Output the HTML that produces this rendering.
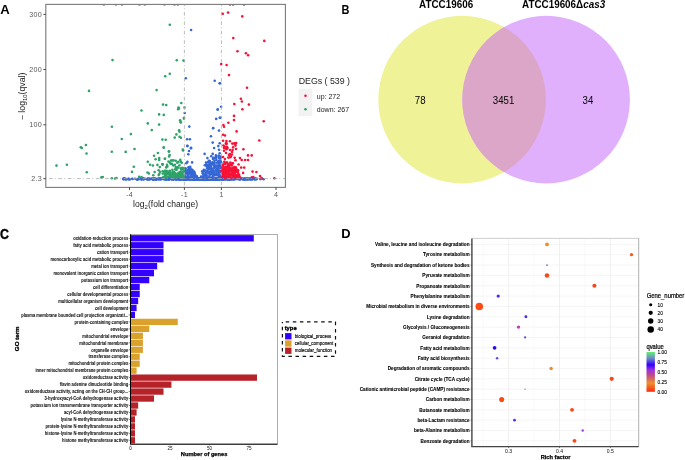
<!DOCTYPE html>
<html><head><meta charset="utf-8"><style>
html,body{margin:0;padding:0;background:#fff;width:685px;height:460px;overflow:hidden}
svg{display:block;font-family:"Liberation Sans", sans-serif;will-change:transform;filter:blur(0.45px)}
</style></head><body>
<svg width="685" height="460" viewBox="0 0 685 460" font-family='"Liberation Sans", sans-serif'>
<rect width="685" height="460" fill="#fff"/>
<text x="0.2" y="13.5" font-size="13.1" font-weight="bold">A</text>
<clipPath id="ca"><rect x="45.8" y="4.4" width="239.6" height="183.0"/></clipPath>
<g clip-path="url(#ca)">
<g fill="#3567d6">
<circle cx="191.1" cy="30.0" r="1.3"/><circle cx="185.8" cy="78.3" r="1.3"/><circle cx="214.7" cy="80.8" r="1.3"/><circle cx="219.7" cy="83.3" r="1.3"/><circle cx="220.0" cy="83.3" r="1.3"/><circle cx="184.7" cy="113.0" r="1.3"/><circle cx="189.3" cy="126.6" r="1.3"/><circle cx="217.7" cy="109.5" r="1.3"/><circle cx="216.2" cy="118.9" r="1.3"/><circle cx="219.7" cy="117.8" r="1.3"/><circle cx="213.2" cy="128.0" r="1.3"/><circle cx="221.1" cy="106.7" r="1.3"/><circle cx="217.7" cy="109.5" r="1.3"/><circle cx="220.3" cy="117.8" r="1.3"/><circle cx="187.1" cy="139.2" r="1.3"/><circle cx="189.9" cy="139.2" r="1.3"/><circle cx="187.5" cy="146.0" r="1.3"/><circle cx="191.0" cy="147.9" r="1.3"/><circle cx="187.2" cy="145.9" r="1.3"/><circle cx="191.0" cy="148.2" r="1.3"/><circle cx="189.0" cy="151.0" r="1.3"/><circle cx="188.3" cy="154.3" r="1.3"/><circle cx="187.4" cy="161.9" r="1.3"/><circle cx="186.3" cy="163.3" r="1.3"/><circle cx="192.1" cy="162.4" r="1.3"/><circle cx="192.3" cy="179.2" r="1.3"/><circle cx="193.2" cy="178.9" r="1.3"/><circle cx="172.1" cy="178.9" r="1.3"/><circle cx="233.4" cy="179.1" r="1.3"/><circle cx="231.1" cy="179.1" r="1.3"/><circle cx="211.8" cy="179.1" r="1.3"/><circle cx="150.0" cy="179.3" r="1.3"/><circle cx="215.2" cy="179.1" r="1.3"/><circle cx="149.3" cy="178.5" r="1.3"/><circle cx="173.3" cy="178.9" r="1.3"/><circle cx="209.2" cy="179.0" r="1.3"/><circle cx="215.6" cy="178.8" r="1.3"/><circle cx="209.3" cy="179.1" r="1.3"/><circle cx="180.2" cy="179.5" r="1.3"/><circle cx="216.7" cy="179.4" r="1.3"/><circle cx="181.4" cy="178.8" r="1.3"/><circle cx="189.7" cy="179.0" r="1.3"/><circle cx="219.0" cy="179.1" r="1.3"/><circle cx="186.6" cy="178.7" r="1.3"/><circle cx="184.4" cy="179.4" r="1.3"/><circle cx="175.8" cy="179.1" r="1.3"/><circle cx="212.8" cy="178.6" r="1.3"/><circle cx="201.5" cy="179.4" r="1.3"/><circle cx="139.6" cy="178.9" r="1.3"/><circle cx="196.8" cy="178.8" r="1.3"/><circle cx="214.9" cy="179.0" r="1.3"/><circle cx="156.1" cy="179.2" r="1.3"/><circle cx="220.1" cy="179.3" r="1.3"/><circle cx="243.2" cy="179.1" r="1.3"/><circle cx="203.6" cy="178.6" r="1.3"/><circle cx="218.5" cy="178.8" r="1.3"/><circle cx="186.4" cy="178.6" r="1.3"/><circle cx="171.0" cy="178.8" r="1.3"/><circle cx="238.7" cy="178.4" r="1.3"/><circle cx="156.3" cy="179.1" r="1.3"/><circle cx="243.3" cy="179.2" r="1.3"/><circle cx="143.0" cy="178.2" r="1.3"/><circle cx="210.7" cy="178.8" r="1.3"/><circle cx="166.4" cy="179.3" r="1.3"/><circle cx="233.1" cy="179.0" r="1.3"/><circle cx="207.4" cy="179.1" r="1.3"/><circle cx="247.8" cy="179.2" r="1.3"/><circle cx="215.6" cy="179.2" r="1.3"/><circle cx="153.0" cy="179.4" r="1.3"/><circle cx="228.7" cy="179.2" r="1.3"/><circle cx="140.8" cy="178.8" r="1.3"/><circle cx="225.3" cy="178.5" r="1.3"/><circle cx="194.5" cy="179.3" r="1.3"/><circle cx="160.7" cy="179.5" r="1.3"/><circle cx="216.6" cy="179.0" r="1.3"/><circle cx="209.7" cy="179.2" r="1.3"/><circle cx="203.6" cy="179.3" r="1.3"/><circle cx="180.2" cy="178.9" r="1.3"/><circle cx="231.3" cy="179.0" r="1.3"/><circle cx="173.6" cy="179.3" r="1.3"/><circle cx="244.0" cy="178.9" r="1.3"/><circle cx="158.6" cy="179.0" r="1.3"/><circle cx="195.5" cy="178.9" r="1.3"/><circle cx="242.1" cy="178.7" r="1.3"/><circle cx="237.8" cy="178.6" r="1.3"/><circle cx="176.4" cy="179.2" r="1.3"/><circle cx="233.9" cy="179.3" r="1.3"/><circle cx="210.4" cy="179.0" r="1.3"/><circle cx="204.6" cy="179.2" r="1.3"/><circle cx="194.7" cy="179.1" r="1.3"/><circle cx="217.2" cy="179.0" r="1.3"/><circle cx="222.9" cy="179.2" r="1.3"/><circle cx="260.3" cy="179.1" r="1.3"/><circle cx="187.2" cy="178.9" r="1.3"/><circle cx="199.6" cy="179.3" r="1.3"/><circle cx="189.9" cy="179.1" r="1.3"/><circle cx="255.1" cy="178.2" r="1.3"/><circle cx="166.3" cy="179.1" r="1.3"/><circle cx="212.0" cy="179.1" r="1.3"/><circle cx="187.1" cy="179.2" r="1.3"/><circle cx="208.5" cy="178.8" r="1.3"/><circle cx="210.7" cy="178.8" r="1.3"/><circle cx="197.0" cy="178.9" r="1.3"/><circle cx="198.1" cy="178.2" r="1.3"/><circle cx="185.4" cy="179.3" r="1.3"/><circle cx="164.9" cy="179.0" r="1.3"/><circle cx="228.6" cy="179.3" r="1.3"/><circle cx="244.7" cy="178.5" r="1.3"/><circle cx="189.4" cy="178.9" r="1.3"/><circle cx="218.7" cy="179.3" r="1.3"/><circle cx="232.7" cy="178.6" r="1.3"/><circle cx="220.5" cy="178.6" r="1.3"/><circle cx="205.3" cy="179.4" r="1.3"/><circle cx="195.5" cy="179.1" r="1.3"/><circle cx="223.9" cy="179.0" r="1.3"/><circle cx="197.3" cy="179.5" r="1.3"/><circle cx="231.5" cy="178.9" r="1.3"/><circle cx="165.6" cy="179.3" r="1.3"/><circle cx="192.0" cy="179.0" r="1.3"/><circle cx="221.2" cy="179.1" r="1.3"/><circle cx="219.2" cy="178.5" r="1.3"/><circle cx="154.7" cy="179.2" r="1.3"/><circle cx="171.1" cy="178.7" r="1.3"/><circle cx="155.9" cy="179.4" r="1.3"/><circle cx="222.4" cy="179.4" r="1.3"/><circle cx="171.9" cy="179.0" r="1.3"/><circle cx="165.8" cy="179.2" r="1.3"/><circle cx="247.7" cy="178.7" r="1.3"/><circle cx="246.8" cy="179.3" r="1.3"/><circle cx="194.7" cy="178.4" r="1.3"/><circle cx="242.2" cy="179.0" r="1.3"/><circle cx="181.9" cy="179.1" r="1.3"/><circle cx="212.3" cy="179.4" r="1.3"/><circle cx="169.4" cy="179.3" r="1.3"/><circle cx="244.6" cy="179.4" r="1.3"/><circle cx="194.6" cy="178.8" r="1.3"/><circle cx="230.6" cy="179.0" r="1.3"/><circle cx="203.7" cy="179.4" r="1.3"/><circle cx="192.1" cy="178.3" r="1.3"/><circle cx="188.4" cy="178.4" r="1.3"/><circle cx="224.6" cy="179.1" r="1.3"/><circle cx="181.7" cy="179.0" r="1.3"/><circle cx="225.0" cy="179.0" r="1.3"/><circle cx="239.8" cy="179.0" r="1.3"/><circle cx="231.2" cy="179.4" r="1.3"/><circle cx="248.3" cy="178.8" r="1.3"/><circle cx="226.4" cy="178.4" r="1.3"/><circle cx="167.5" cy="178.4" r="1.3"/><circle cx="232.1" cy="178.6" r="1.3"/><circle cx="199.6" cy="178.9" r="1.3"/><circle cx="199.1" cy="178.8" r="1.3"/><circle cx="207.0" cy="179.5" r="1.3"/><circle cx="201.3" cy="179.2" r="1.3"/><circle cx="230.0" cy="178.9" r="1.3"/><circle cx="162.2" cy="178.8" r="1.3"/><circle cx="232.2" cy="178.5" r="1.3"/><circle cx="182.1" cy="179.3" r="1.3"/><circle cx="223.8" cy="179.0" r="1.3"/><circle cx="224.2" cy="179.0" r="1.3"/><circle cx="164.6" cy="178.5" r="1.3"/><circle cx="180.8" cy="179.3" r="1.3"/><circle cx="183.0" cy="178.7" r="1.3"/><circle cx="176.9" cy="178.5" r="1.3"/><circle cx="196.5" cy="178.6" r="1.3"/><circle cx="210.9" cy="178.3" r="1.3"/><circle cx="209.8" cy="178.8" r="1.3"/><circle cx="141.7" cy="179.2" r="1.3"/><circle cx="191.7" cy="178.3" r="1.3"/><circle cx="173.7" cy="179.1" r="1.3"/><circle cx="186.2" cy="179.2" r="1.3"/><circle cx="222.4" cy="179.2" r="1.3"/><circle cx="209.8" cy="179.4" r="1.3"/><circle cx="219.8" cy="179.1" r="1.3"/><circle cx="137.5" cy="179.3" r="1.3"/><circle cx="239.3" cy="178.9" r="1.3"/><circle cx="185.9" cy="179.6" r="1.3"/><circle cx="147.3" cy="179.1" r="1.3"/><circle cx="172.2" cy="179.2" r="1.3"/><circle cx="256.6" cy="179.0" r="1.3"/><circle cx="216.8" cy="179.3" r="1.3"/><circle cx="172.8" cy="179.0" r="1.3"/><circle cx="208.8" cy="179.2" r="1.3"/><circle cx="199.0" cy="178.9" r="1.3"/><circle cx="169.5" cy="178.9" r="1.3"/><circle cx="226.8" cy="179.0" r="1.3"/><circle cx="174.4" cy="178.7" r="1.3"/><circle cx="234.2" cy="179.2" r="1.3"/><circle cx="218.6" cy="179.1" r="1.3"/><circle cx="250.5" cy="179.1" r="1.3"/><circle cx="198.0" cy="179.2" r="1.3"/><circle cx="141.7" cy="179.3" r="1.3"/><circle cx="209.7" cy="178.8" r="1.3"/><circle cx="239.8" cy="179.5" r="1.3"/><circle cx="157.9" cy="178.8" r="1.3"/><circle cx="208.7" cy="179.1" r="1.3"/><circle cx="188.0" cy="178.7" r="1.3"/><circle cx="263.6" cy="179.3" r="1.3"/><circle cx="164.2" cy="178.6" r="1.3"/><circle cx="251.1" cy="179.3" r="1.3"/><circle cx="254.6" cy="179.2" r="1.3"/><circle cx="173.8" cy="179.1" r="1.3"/><circle cx="135.2" cy="178.8" r="1.3"/><circle cx="198.2" cy="179.2" r="1.3"/><circle cx="178.2" cy="179.0" r="1.3"/><circle cx="213.8" cy="179.1" r="1.3"/><circle cx="219.1" cy="179.1" r="1.3"/><circle cx="190.3" cy="179.2" r="1.3"/><circle cx="201.5" cy="178.8" r="1.3"/><circle cx="181.2" cy="179.0" r="1.3"/><circle cx="196.7" cy="179.0" r="1.3"/><circle cx="200.0" cy="179.1" r="1.3"/><circle cx="196.0" cy="178.6" r="1.3"/><circle cx="212.6" cy="179.3" r="1.3"/><circle cx="213.0" cy="178.9" r="1.3"/><circle cx="213.4" cy="178.7" r="1.3"/><circle cx="143.1" cy="179.0" r="1.3"/><circle cx="172.1" cy="179.2" r="1.3"/><circle cx="167.5" cy="178.2" r="1.3"/><circle cx="168.8" cy="179.5" r="1.3"/><circle cx="188.5" cy="178.6" r="1.3"/><circle cx="177.1" cy="179.2" r="1.3"/><circle cx="214.9" cy="179.1" r="1.3"/><circle cx="244.5" cy="179.2" r="1.3"/><circle cx="199.4" cy="179.2" r="1.3"/><circle cx="249.6" cy="179.3" r="1.3"/><circle cx="230.7" cy="178.7" r="1.3"/><circle cx="195.5" cy="179.2" r="1.3"/><circle cx="191.1" cy="179.3" r="1.3"/><circle cx="217.9" cy="179.3" r="1.3"/><circle cx="193.6" cy="179.8" r="1.3"/><circle cx="237.2" cy="178.9" r="1.3"/><circle cx="202.7" cy="179.8" r="1.3"/><circle cx="189.7" cy="179.3" r="1.3"/><circle cx="229.4" cy="179.0" r="1.3"/><circle cx="165.0" cy="179.1" r="1.3"/><circle cx="210.8" cy="179.3" r="1.3"/><circle cx="223.5" cy="179.0" r="1.3"/><circle cx="225.6" cy="179.2" r="1.3"/><circle cx="206.2" cy="179.0" r="1.3"/><circle cx="192.7" cy="179.2" r="1.3"/><circle cx="168.4" cy="178.8" r="1.3"/><circle cx="200.1" cy="178.6" r="1.3"/><circle cx="186.9" cy="178.4" r="1.3"/><circle cx="179.5" cy="179.2" r="1.3"/><circle cx="217.0" cy="179.0" r="1.3"/><circle cx="193.0" cy="178.6" r="1.3"/><circle cx="254.8" cy="179.2" r="1.3"/><circle cx="232.8" cy="178.7" r="1.3"/><circle cx="194.4" cy="178.5" r="1.3"/><circle cx="223.4" cy="179.3" r="1.3"/><circle cx="143.1" cy="179.0" r="1.3"/><circle cx="218.9" cy="178.5" r="1.3"/><circle cx="145.2" cy="178.7" r="1.3"/><circle cx="181.1" cy="178.6" r="1.3"/><circle cx="200.9" cy="179.1" r="1.3"/><circle cx="219.0" cy="179.2" r="1.3"/><circle cx="245.1" cy="179.3" r="1.3"/><circle cx="160.6" cy="178.8" r="1.3"/><circle cx="168.2" cy="178.7" r="1.3"/><circle cx="197.6" cy="179.0" r="1.3"/><circle cx="214.7" cy="178.5" r="1.3"/><circle cx="162.9" cy="179.0" r="1.3"/><circle cx="194.0" cy="178.9" r="1.3"/><circle cx="198.1" cy="178.8" r="1.3"/><circle cx="221.0" cy="179.1" r="1.3"/><circle cx="197.4" cy="178.8" r="1.3"/><circle cx="194.8" cy="178.2" r="1.3"/><circle cx="170.6" cy="179.0" r="1.3"/><circle cx="154.9" cy="179.1" r="1.3"/><circle cx="204.4" cy="178.6" r="1.3"/><circle cx="192.5" cy="178.9" r="1.3"/><circle cx="213.8" cy="179.2" r="1.3"/><circle cx="198.9" cy="178.7" r="1.3"/><circle cx="195.7" cy="179.0" r="1.3"/><circle cx="222.0" cy="179.1" r="1.3"/><circle cx="178.3" cy="178.6" r="1.3"/><circle cx="188.8" cy="178.8" r="1.3"/><circle cx="166.6" cy="179.0" r="1.3"/><circle cx="185.3" cy="179.0" r="1.3"/><circle cx="215.7" cy="178.9" r="1.3"/><circle cx="190.4" cy="179.3" r="1.3"/><circle cx="203.6" cy="179.3" r="1.3"/><circle cx="128.7" cy="178.8" r="1.3"/><circle cx="207.4" cy="179.2" r="1.3"/><circle cx="209.7" cy="179.4" r="1.3"/><circle cx="223.0" cy="179.3" r="1.3"/><circle cx="215.3" cy="179.0" r="1.3"/><circle cx="215.3" cy="178.7" r="1.3"/><circle cx="235.4" cy="178.7" r="1.3"/><circle cx="207.5" cy="179.6" r="1.3"/><circle cx="193.3" cy="179.0" r="1.3"/><circle cx="234.9" cy="179.0" r="1.3"/><circle cx="175.8" cy="179.1" r="1.3"/><circle cx="217.5" cy="179.2" r="1.3"/><circle cx="176.8" cy="179.5" r="1.3"/><circle cx="250.0" cy="179.0" r="1.3"/><circle cx="208.1" cy="178.9" r="1.3"/><circle cx="242.4" cy="178.8" r="1.3"/><circle cx="220.2" cy="178.9" r="1.3"/><circle cx="179.2" cy="179.2" r="1.3"/><circle cx="240.0" cy="179.0" r="1.3"/><circle cx="179.7" cy="179.2" r="1.3"/><circle cx="198.5" cy="179.1" r="1.3"/><circle cx="245.7" cy="179.3" r="1.3"/><circle cx="184.4" cy="179.7" r="1.3"/><circle cx="200.1" cy="179.2" r="1.3"/><circle cx="180.6" cy="179.0" r="1.3"/><circle cx="147.5" cy="179.5" r="1.3"/><circle cx="241.0" cy="178.6" r="1.3"/><circle cx="154.8" cy="178.5" r="1.3"/><circle cx="235.3" cy="178.9" r="1.3"/><circle cx="198.2" cy="178.9" r="1.3"/><circle cx="196.4" cy="178.7" r="1.3"/><circle cx="200.7" cy="178.6" r="1.3"/><circle cx="197.9" cy="179.1" r="1.3"/><circle cx="214.0" cy="178.9" r="1.3"/><circle cx="172.9" cy="179.0" r="1.3"/><circle cx="185.5" cy="179.5" r="1.3"/><circle cx="223.0" cy="179.0" r="1.3"/><circle cx="185.9" cy="178.8" r="1.3"/><circle cx="171.9" cy="178.9" r="1.3"/><circle cx="208.8" cy="179.2" r="1.3"/><circle cx="217.1" cy="179.6" r="1.3"/><circle cx="178.9" cy="179.0" r="1.3"/><circle cx="144.0" cy="178.8" r="1.3"/><circle cx="205.1" cy="179.0" r="1.3"/><circle cx="212.2" cy="178.9" r="1.3"/><circle cx="211.0" cy="179.0" r="1.3"/><circle cx="223.1" cy="178.4" r="1.3"/><circle cx="173.4" cy="179.0" r="1.3"/><circle cx="169.0" cy="178.7" r="1.3"/><circle cx="218.8" cy="178.8" r="1.3"/><circle cx="219.0" cy="179.2" r="1.3"/><circle cx="209.2" cy="179.2" r="1.3"/><circle cx="196.9" cy="178.6" r="1.3"/><circle cx="199.1" cy="179.1" r="1.3"/><circle cx="184.1" cy="179.0" r="1.3"/><circle cx="222.5" cy="178.7" r="1.3"/><circle cx="219.2" cy="179.6" r="1.3"/><circle cx="183.4" cy="179.0" r="1.3"/><circle cx="195.5" cy="179.5" r="1.3"/><circle cx="209.5" cy="179.3" r="1.3"/><circle cx="179.3" cy="179.0" r="1.3"/><circle cx="199.7" cy="178.5" r="1.3"/><circle cx="243.2" cy="179.3" r="1.3"/><circle cx="147.5" cy="179.2" r="1.3"/><circle cx="196.1" cy="179.1" r="1.3"/><circle cx="211.0" cy="178.6" r="1.3"/><circle cx="193.6" cy="179.4" r="1.3"/><circle cx="182.8" cy="178.7" r="1.3"/><circle cx="159.2" cy="178.6" r="1.3"/><circle cx="210.1" cy="179.5" r="1.3"/><circle cx="212.9" cy="179.1" r="1.3"/><circle cx="184.4" cy="178.8" r="1.3"/><circle cx="215.9" cy="179.2" r="1.3"/><circle cx="169.6" cy="178.6" r="1.3"/><circle cx="208.7" cy="179.1" r="1.3"/><circle cx="160.8" cy="178.9" r="1.3"/><circle cx="183.7" cy="179.1" r="1.3"/><circle cx="196.5" cy="179.0" r="1.3"/><circle cx="189.4" cy="179.3" r="1.3"/><circle cx="241.7" cy="178.9" r="1.3"/><circle cx="225.4" cy="178.8" r="1.3"/><circle cx="202.2" cy="179.2" r="1.3"/><circle cx="245.4" cy="178.9" r="1.3"/><circle cx="197.8" cy="179.1" r="1.3"/><circle cx="155.1" cy="179.0" r="1.3"/><circle cx="179.7" cy="179.1" r="1.3"/><circle cx="166.1" cy="178.4" r="1.3"/><circle cx="201.1" cy="179.1" r="1.3"/><circle cx="183.5" cy="179.3" r="1.3"/><circle cx="191.8" cy="178.8" r="1.3"/><circle cx="214.3" cy="178.5" r="1.3"/><circle cx="179.7" cy="179.0" r="1.3"/><circle cx="225.5" cy="179.0" r="1.3"/><circle cx="209.3" cy="178.8" r="1.3"/><circle cx="209.1" cy="179.5" r="1.3"/><circle cx="179.4" cy="179.7" r="1.3"/><circle cx="180.7" cy="179.0" r="1.3"/><circle cx="205.2" cy="179.3" r="1.3"/><circle cx="162.9" cy="178.4" r="1.3"/><circle cx="218.2" cy="179.2" r="1.3"/><circle cx="218.7" cy="179.8" r="1.3"/><circle cx="206.1" cy="179.1" r="1.3"/><circle cx="227.9" cy="179.1" r="1.3"/><circle cx="249.9" cy="178.6" r="1.3"/><circle cx="188.7" cy="178.0" r="1.3"/><circle cx="224.4" cy="178.9" r="1.3"/><circle cx="227.7" cy="179.6" r="1.3"/><circle cx="199.8" cy="178.9" r="1.3"/><circle cx="185.0" cy="178.7" r="1.3"/><circle cx="181.1" cy="179.2" r="1.3"/><circle cx="201.1" cy="179.0" r="1.3"/><circle cx="194.8" cy="179.3" r="1.3"/><circle cx="214.8" cy="179.0" r="1.3"/><circle cx="219.9" cy="179.0" r="1.3"/><circle cx="165.4" cy="179.4" r="1.3"/><circle cx="214.0" cy="178.7" r="1.3"/><circle cx="232.4" cy="179.1" r="1.3"/><circle cx="153.1" cy="179.5" r="1.3"/><circle cx="210.0" cy="179.3" r="1.3"/><circle cx="205.9" cy="179.0" r="1.3"/><circle cx="153.6" cy="179.3" r="1.3"/><circle cx="200.9" cy="178.9" r="1.3"/><circle cx="210.5" cy="179.0" r="1.3"/><circle cx="220.3" cy="178.9" r="1.3"/><circle cx="198.9" cy="178.4" r="1.3"/><circle cx="187.3" cy="179.2" r="1.3"/><circle cx="240.1" cy="178.9" r="1.3"/><circle cx="196.4" cy="179.5" r="1.3"/><circle cx="190.2" cy="179.2" r="1.3"/><circle cx="250.3" cy="179.0" r="1.3"/><circle cx="236.8" cy="178.8" r="1.3"/><circle cx="206.2" cy="179.0" r="1.3"/><circle cx="203.4" cy="179.3" r="1.3"/><circle cx="180.0" cy="178.8" r="1.3"/><circle cx="214.9" cy="178.7" r="1.3"/><circle cx="214.9" cy="179.2" r="1.3"/><circle cx="191.7" cy="179.2" r="1.3"/><circle cx="153.5" cy="179.2" r="1.3"/><circle cx="153.7" cy="178.8" r="1.3"/><circle cx="183.3" cy="178.9" r="1.3"/><circle cx="225.8" cy="179.0" r="1.3"/><circle cx="188.1" cy="179.2" r="1.3"/><circle cx="247.4" cy="179.0" r="1.3"/><circle cx="211.0" cy="179.4" r="1.3"/><circle cx="208.0" cy="178.6" r="1.3"/><circle cx="140.5" cy="179.0" r="1.3"/><circle cx="212.5" cy="179.3" r="1.3"/><circle cx="220.1" cy="178.9" r="1.3"/><circle cx="168.4" cy="179.0" r="1.3"/><circle cx="231.0" cy="178.7" r="1.3"/><circle cx="169.2" cy="179.0" r="1.3"/><circle cx="141.9" cy="178.9" r="1.3"/><circle cx="186.9" cy="179.1" r="1.3"/><circle cx="178.9" cy="178.7" r="1.3"/><circle cx="188.2" cy="179.0" r="1.3"/><circle cx="180.1" cy="179.0" r="1.3"/><circle cx="222.5" cy="179.4" r="1.3"/><circle cx="251.1" cy="178.8" r="1.3"/><circle cx="187.4" cy="178.3" r="1.3"/><circle cx="257.0" cy="178.8" r="1.3"/><circle cx="199.0" cy="179.2" r="1.3"/><circle cx="159.2" cy="179.1" r="1.3"/><circle cx="199.2" cy="178.5" r="1.3"/><circle cx="208.8" cy="179.4" r="1.3"/><circle cx="144.0" cy="179.2" r="1.3"/><circle cx="206.3" cy="179.1" r="1.3"/><circle cx="213.2" cy="179.4" r="1.3"/><circle cx="193.3" cy="179.3" r="1.3"/><circle cx="187.7" cy="179.2" r="1.3"/><circle cx="175.6" cy="179.0" r="1.3"/><circle cx="251.9" cy="179.1" r="1.3"/><circle cx="195.3" cy="178.7" r="1.3"/><circle cx="176.3" cy="179.1" r="1.3"/><circle cx="228.2" cy="179.1" r="1.3"/><circle cx="215.7" cy="179.0" r="1.3"/><circle cx="240.6" cy="178.9" r="1.3"/><circle cx="183.5" cy="179.3" r="1.3"/><circle cx="201.9" cy="178.9" r="1.3"/><circle cx="182.7" cy="178.9" r="1.3"/><circle cx="218.7" cy="179.1" r="1.3"/><circle cx="163.7" cy="179.1" r="1.3"/><circle cx="205.4" cy="178.7" r="1.3"/><circle cx="223.2" cy="178.9" r="1.3"/><circle cx="189.9" cy="179.2" r="1.3"/><circle cx="239.6" cy="178.8" r="1.3"/><circle cx="213.1" cy="178.7" r="1.3"/><circle cx="185.2" cy="179.4" r="1.3"/><circle cx="180.6" cy="179.2" r="1.3"/><circle cx="123.8" cy="178.9" r="1.3"/><circle cx="215.0" cy="179.0" r="1.3"/><circle cx="179.9" cy="179.6" r="1.3"/><circle cx="202.4" cy="178.5" r="1.3"/><circle cx="225.6" cy="178.5" r="1.3"/><circle cx="234.5" cy="178.8" r="1.3"/><circle cx="204.3" cy="179.4" r="1.3"/><circle cx="203.5" cy="178.6" r="1.3"/><circle cx="149.1" cy="179.4" r="1.3"/><circle cx="222.2" cy="178.8" r="1.3"/><circle cx="225.8" cy="179.1" r="1.3"/><circle cx="219.4" cy="178.3" r="1.3"/><circle cx="190.9" cy="179.3" r="1.3"/><circle cx="222.0" cy="179.3" r="1.3"/><circle cx="126.3" cy="179.1" r="1.3"/><circle cx="214.8" cy="179.8" r="1.3"/><circle cx="171.4" cy="178.9" r="1.3"/><circle cx="201.1" cy="179.3" r="1.3"/><circle cx="186.7" cy="179.3" r="1.3"/><circle cx="176.4" cy="179.1" r="1.3"/><circle cx="184.2" cy="179.0" r="1.3"/><circle cx="179.3" cy="178.5" r="1.3"/><circle cx="232.8" cy="179.1" r="1.3"/><circle cx="183.2" cy="179.1" r="1.3"/><circle cx="229.7" cy="178.7" r="1.3"/><circle cx="196.7" cy="179.2" r="1.3"/><circle cx="215.8" cy="178.9" r="1.3"/><circle cx="136.8" cy="179.4" r="1.3"/><circle cx="209.8" cy="179.0" r="1.3"/><circle cx="191.6" cy="179.1" r="1.3"/><circle cx="187.2" cy="178.7" r="1.3"/><circle cx="177.8" cy="178.8" r="1.3"/><circle cx="181.6" cy="178.7" r="1.3"/><circle cx="219.1" cy="178.6" r="1.3"/><circle cx="219.8" cy="178.7" r="1.3"/><circle cx="210.6" cy="179.4" r="1.3"/><circle cx="206.1" cy="178.8" r="1.3"/><circle cx="201.4" cy="179.0" r="1.3"/><circle cx="148.0" cy="178.8" r="1.3"/><circle cx="204.9" cy="178.9" r="1.3"/><circle cx="202.4" cy="179.2" r="1.3"/><circle cx="223.0" cy="179.3" r="1.3"/><circle cx="217.7" cy="178.9" r="1.3"/><circle cx="199.4" cy="178.9" r="1.3"/><circle cx="190.6" cy="178.9" r="1.3"/><circle cx="148.3" cy="178.9" r="1.3"/><circle cx="199.3" cy="178.7" r="1.3"/><circle cx="199.3" cy="179.2" r="1.3"/><circle cx="195.1" cy="179.6" r="1.3"/><circle cx="193.8" cy="178.5" r="1.3"/><circle cx="229.4" cy="179.8" r="1.3"/><circle cx="124.9" cy="179.0" r="1.3"/><circle cx="215.6" cy="178.9" r="1.3"/><circle cx="216.5" cy="178.3" r="1.3"/><circle cx="225.6" cy="179.1" r="1.3"/><circle cx="200.7" cy="178.8" r="1.3"/><circle cx="219.2" cy="178.9" r="1.3"/><circle cx="206.7" cy="178.8" r="1.3"/><circle cx="132.6" cy="179.0" r="1.3"/><circle cx="152.4" cy="179.0" r="1.3"/><circle cx="168.2" cy="179.4" r="1.3"/><circle cx="128.0" cy="179.1" r="1.3"/><circle cx="256.0" cy="179.2" r="1.3"/><circle cx="219.5" cy="179.1" r="1.3"/><circle cx="234.4" cy="178.9" r="1.3"/><circle cx="139.2" cy="178.6" r="1.3"/><circle cx="174.0" cy="178.9" r="1.3"/><circle cx="246.9" cy="178.6" r="1.3"/><circle cx="248.3" cy="178.9" r="1.3"/><circle cx="137.7" cy="179.4" r="1.3"/><circle cx="178.9" cy="179.0" r="1.3"/><circle cx="236.2" cy="178.9" r="1.3"/><circle cx="204.9" cy="179.9" r="1.3"/><circle cx="174.0" cy="179.0" r="1.3"/><circle cx="147.9" cy="178.7" r="1.3"/><circle cx="228.5" cy="179.5" r="1.3"/><circle cx="158.9" cy="179.2" r="1.3"/><circle cx="213.7" cy="179.4" r="1.3"/><circle cx="217.2" cy="179.0" r="1.3"/><circle cx="167.3" cy="179.1" r="1.3"/><circle cx="144.0" cy="179.0" r="1.3"/><circle cx="210.4" cy="178.7" r="1.3"/><circle cx="250.1" cy="179.1" r="1.3"/><circle cx="141.6" cy="179.1" r="1.3"/><circle cx="126.0" cy="179.4" r="1.3"/><circle cx="123.2" cy="178.9" r="1.3"/><circle cx="173.6" cy="179.1" r="1.3"/><circle cx="154.7" cy="178.7" r="1.3"/><circle cx="151.8" cy="178.8" r="1.3"/><circle cx="211.5" cy="178.8" r="1.3"/><circle cx="256.0" cy="179.0" r="1.3"/><circle cx="157.4" cy="179.1" r="1.3"/><circle cx="213.6" cy="179.1" r="1.3"/><circle cx="246.7" cy="179.1" r="1.3"/><circle cx="160.4" cy="178.7" r="1.3"/><circle cx="124.4" cy="178.8" r="1.3"/><circle cx="172.6" cy="178.7" r="1.3"/><circle cx="214.6" cy="178.3" r="1.3"/><circle cx="227.1" cy="179.2" r="1.3"/><circle cx="158.1" cy="179.1" r="1.3"/><circle cx="198.4" cy="178.9" r="1.3"/><circle cx="180.5" cy="179.0" r="1.3"/><circle cx="233.6" cy="179.1" r="1.3"/><circle cx="124.6" cy="178.3" r="1.3"/><circle cx="143.0" cy="178.8" r="1.3"/><circle cx="151.2" cy="178.7" r="1.3"/><circle cx="214.0" cy="178.8" r="1.3"/><circle cx="238.5" cy="179.1" r="1.3"/><circle cx="165.5" cy="179.2" r="1.3"/><circle cx="129.7" cy="179.4" r="1.3"/><circle cx="224.5" cy="178.7" r="1.3"/><circle cx="123.7" cy="179.3" r="1.3"/><circle cx="189.0" cy="178.6" r="1.3"/><circle cx="228.3" cy="178.8" r="1.3"/><circle cx="137.8" cy="179.1" r="1.3"/><circle cx="155.8" cy="179.3" r="1.3"/><circle cx="229.4" cy="179.1" r="1.3"/><circle cx="221.6" cy="179.3" r="1.3"/><circle cx="160.6" cy="178.6" r="1.3"/><circle cx="201.5" cy="178.5" r="1.3"/><circle cx="197.2" cy="179.2" r="1.3"/><circle cx="160.5" cy="178.5" r="1.3"/><circle cx="153.7" cy="178.4" r="1.3"/><circle cx="247.9" cy="179.2" r="1.3"/><circle cx="156.4" cy="179.0" r="1.3"/><circle cx="228.6" cy="179.5" r="1.3"/><circle cx="169.3" cy="178.8" r="1.3"/><circle cx="248.0" cy="178.9" r="1.3"/><circle cx="251.9" cy="179.2" r="1.3"/><circle cx="212.5" cy="178.8" r="1.3"/><circle cx="262.0" cy="178.6" r="1.3"/><circle cx="189.6" cy="179.2" r="1.3"/><circle cx="244.7" cy="178.6" r="1.3"/><circle cx="185.0" cy="178.9" r="1.3"/><circle cx="166.6" cy="178.6" r="1.3"/><circle cx="152.9" cy="178.9" r="1.3"/><circle cx="252.3" cy="178.9" r="1.3"/><circle cx="143.4" cy="179.1" r="1.3"/><circle cx="254.9" cy="179.0" r="1.3"/><circle cx="171.8" cy="179.0" r="1.3"/><circle cx="128.7" cy="179.1" r="1.3"/><circle cx="221.3" cy="178.7" r="1.3"/><circle cx="227.6" cy="178.7" r="1.3"/><circle cx="132.2" cy="178.8" r="1.3"/><circle cx="239.1" cy="178.8" r="1.3"/><circle cx="239.3" cy="179.1" r="1.3"/><circle cx="246.2" cy="178.9" r="1.3"/><circle cx="252.8" cy="179.1" r="1.3"/><circle cx="152.1" cy="179.0" r="1.3"/><circle cx="188.5" cy="167.2" r="1.3"/><circle cx="190.2" cy="166.9" r="1.3"/><circle cx="185.5" cy="168.3" r="1.3"/><circle cx="189.0" cy="168.1" r="1.3"/><circle cx="190.2" cy="168.3" r="1.3"/><circle cx="185.3" cy="169.4" r="1.3"/><circle cx="187.6" cy="169.7" r="1.3"/><circle cx="189.0" cy="169.4" r="1.3"/><circle cx="190.0" cy="170.0" r="1.3"/><circle cx="191.5" cy="169.5" r="1.3"/><circle cx="192.5" cy="170.0" r="1.3"/><circle cx="185.5" cy="170.8" r="1.3"/><circle cx="187.4" cy="171.4" r="1.3"/><circle cx="188.3" cy="170.8" r="1.3"/><circle cx="190.0" cy="170.8" r="1.3"/><circle cx="191.1" cy="171.6" r="1.3"/><circle cx="192.4" cy="171.6" r="1.3"/><circle cx="194.1" cy="171.6" r="1.3"/><circle cx="185.7" cy="172.0" r="1.3"/><circle cx="187.5" cy="172.7" r="1.3"/><circle cx="188.7" cy="172.5" r="1.3"/><circle cx="190.1" cy="172.4" r="1.3"/><circle cx="191.8" cy="172.4" r="1.3"/><circle cx="193.0" cy="172.4" r="1.3"/><circle cx="194.4" cy="172.9" r="1.3"/><circle cx="185.9" cy="173.5" r="1.3"/><circle cx="187.5" cy="174.1" r="1.3"/><circle cx="188.4" cy="173.8" r="1.3"/><circle cx="190.1" cy="173.8" r="1.3"/><circle cx="191.8" cy="173.6" r="1.3"/><circle cx="193.1" cy="173.8" r="1.3"/><circle cx="194.7" cy="173.4" r="1.3"/><circle cx="184.5" cy="175.3" r="1.3"/><circle cx="188.3" cy="175.5" r="1.3"/><circle cx="191.3" cy="174.9" r="1.3"/><circle cx="192.7" cy="174.8" r="1.3"/><circle cx="194.1" cy="175.5" r="1.3"/><circle cx="195.4" cy="175.0" r="1.3"/><circle cx="185.7" cy="176.4" r="1.3"/><circle cx="187.5" cy="177.0" r="1.3"/><circle cx="188.6" cy="176.8" r="1.3"/><circle cx="190.5" cy="176.6" r="1.3"/><circle cx="191.7" cy="177.0" r="1.3"/><circle cx="192.6" cy="176.7" r="1.3"/><circle cx="195.4" cy="176.6" r="1.3"/><circle cx="196.9" cy="176.4" r="1.3"/><circle cx="184.6" cy="177.9" r="1.3"/><circle cx="185.6" cy="178.1" r="1.3"/><circle cx="187.3" cy="178.3" r="1.3"/><circle cx="189.0" cy="178.5" r="1.3"/><circle cx="192.9" cy="177.6" r="1.3"/><circle cx="194.7" cy="178.3" r="1.3"/><circle cx="195.2" cy="177.7" r="1.3"/><circle cx="197.3" cy="177.9" r="1.3"/><circle cx="218.4" cy="161.4" r="1.3"/><circle cx="208.7" cy="162.5" r="1.3"/><circle cx="210.0" cy="162.0" r="1.3"/><circle cx="212.4" cy="162.4" r="1.3"/><circle cx="214.3" cy="162.2" r="1.3"/><circle cx="216.7" cy="162.8" r="1.3"/><circle cx="218.4" cy="162.2" r="1.3"/><circle cx="221.1" cy="162.3" r="1.3"/><circle cx="206.4" cy="164.3" r="1.3"/><circle cx="209.8" cy="164.0" r="1.3"/><circle cx="211.3" cy="164.0" r="1.3"/><circle cx="212.3" cy="164.1" r="1.3"/><circle cx="214.3" cy="163.5" r="1.3"/><circle cx="218.6" cy="164.0" r="1.3"/><circle cx="219.6" cy="163.8" r="1.3"/><circle cx="204.8" cy="165.2" r="1.3"/><circle cx="207.2" cy="165.8" r="1.3"/><circle cx="208.1" cy="165.0" r="1.3"/><circle cx="209.4" cy="165.0" r="1.3"/><circle cx="210.6" cy="165.5" r="1.3"/><circle cx="213.6" cy="164.9" r="1.3"/><circle cx="215.2" cy="165.6" r="1.3"/><circle cx="216.5" cy="165.6" r="1.3"/><circle cx="218.7" cy="165.6" r="1.3"/><circle cx="219.9" cy="165.6" r="1.3"/><circle cx="206.7" cy="166.4" r="1.3"/><circle cx="208.3" cy="166.7" r="1.3"/><circle cx="209.3" cy="167.1" r="1.3"/><circle cx="211.2" cy="166.9" r="1.3"/><circle cx="214.3" cy="166.9" r="1.3"/><circle cx="215.0" cy="167.3" r="1.3"/><circle cx="217.2" cy="166.6" r="1.3"/><circle cx="218.8" cy="167.1" r="1.3"/><circle cx="221.1" cy="167.0" r="1.3"/><circle cx="207.1" cy="168.3" r="1.3"/><circle cx="208.6" cy="168.6" r="1.3"/><circle cx="210.1" cy="168.1" r="1.3"/><circle cx="211.2" cy="168.5" r="1.3"/><circle cx="212.8" cy="168.7" r="1.3"/><circle cx="214.1" cy="168.4" r="1.3"/><circle cx="217.2" cy="168.2" r="1.3"/><circle cx="218.7" cy="168.5" r="1.3"/><circle cx="221.3" cy="168.2" r="1.3"/><circle cx="203.8" cy="169.7" r="1.3"/><circle cx="204.8" cy="170.2" r="1.3"/><circle cx="207.9" cy="169.8" r="1.3"/><circle cx="209.7" cy="169.2" r="1.3"/><circle cx="211.6" cy="170.1" r="1.3"/><circle cx="215.8" cy="170.2" r="1.3"/><circle cx="216.4" cy="169.4" r="1.3"/><circle cx="217.9" cy="169.3" r="1.3"/><circle cx="202.2" cy="171.2" r="1.3"/><circle cx="204.3" cy="171.3" r="1.3"/><circle cx="207.2" cy="170.9" r="1.3"/><circle cx="210.1" cy="171.5" r="1.3"/><circle cx="211.4" cy="171.4" r="1.3"/><circle cx="213.0" cy="170.7" r="1.3"/><circle cx="214.3" cy="171.6" r="1.3"/><circle cx="216.5" cy="171.0" r="1.3"/><circle cx="218.0" cy="171.1" r="1.3"/><circle cx="219.5" cy="170.8" r="1.3"/><circle cx="220.8" cy="171.4" r="1.3"/><circle cx="202.8" cy="173.0" r="1.3"/><circle cx="205.6" cy="172.7" r="1.3"/><circle cx="206.6" cy="172.9" r="1.3"/><circle cx="208.3" cy="172.2" r="1.3"/><circle cx="209.2" cy="172.8" r="1.3"/><circle cx="210.7" cy="173.0" r="1.3"/><circle cx="212.5" cy="172.3" r="1.3"/><circle cx="214.3" cy="172.4" r="1.3"/><circle cx="216.5" cy="173.1" r="1.3"/><circle cx="218.7" cy="172.8" r="1.3"/><circle cx="219.8" cy="172.4" r="1.3"/><circle cx="202.8" cy="173.6" r="1.3"/><circle cx="203.6" cy="174.5" r="1.3"/><circle cx="205.6" cy="173.9" r="1.3"/><circle cx="206.3" cy="174.4" r="1.3"/><circle cx="209.4" cy="174.1" r="1.3"/><circle cx="210.8" cy="174.3" r="1.3"/><circle cx="212.2" cy="173.6" r="1.3"/><circle cx="214.1" cy="174.0" r="1.3"/><circle cx="215.2" cy="174.2" r="1.3"/><circle cx="217.2" cy="174.1" r="1.3"/><circle cx="217.9" cy="174.3" r="1.3"/><circle cx="203.7" cy="175.2" r="1.3"/><circle cx="205.4" cy="175.0" r="1.3"/><circle cx="206.7" cy="175.5" r="1.3"/><circle cx="209.5" cy="175.7" r="1.3"/><circle cx="213.0" cy="175.5" r="1.3"/><circle cx="214.0" cy="175.5" r="1.3"/><circle cx="215.9" cy="175.2" r="1.3"/><circle cx="217.9" cy="175.1" r="1.3"/><circle cx="219.5" cy="175.0" r="1.3"/><circle cx="221.3" cy="175.5" r="1.3"/><circle cx="201.2" cy="176.5" r="1.3"/><circle cx="202.4" cy="177.0" r="1.3"/><circle cx="203.5" cy="176.9" r="1.3"/><circle cx="205.4" cy="177.3" r="1.3"/><circle cx="206.8" cy="177.2" r="1.3"/><circle cx="208.5" cy="177.4" r="1.3"/><circle cx="209.6" cy="177.3" r="1.3"/><circle cx="212.4" cy="176.7" r="1.3"/><circle cx="218.8" cy="176.7" r="1.3"/><circle cx="219.9" cy="176.8" r="1.3"/><circle cx="220.8" cy="176.9" r="1.3"/><circle cx="205.7" cy="177.9" r="1.3"/><circle cx="209.8" cy="178.2" r="1.3"/><circle cx="212.3" cy="178.2" r="1.3"/><circle cx="215.5" cy="178.2" r="1.3"/><circle cx="216.9" cy="178.0" r="1.3"/><circle cx="218.0" cy="178.2" r="1.3"/><circle cx="219.6" cy="178.1" r="1.3"/><circle cx="215.9" cy="155.4" r="1.3"/><circle cx="218.8" cy="155.5" r="1.3"/><circle cx="211.2" cy="156.3" r="1.3"/><circle cx="216.2" cy="156.8" r="1.3"/><circle cx="218.6" cy="156.9" r="1.3"/><circle cx="220.8" cy="156.6" r="1.3"/><circle cx="207.4" cy="158.1" r="1.3"/><circle cx="213.3" cy="158.0" r="1.3"/><circle cx="214.2" cy="157.8" r="1.3"/><circle cx="216.1" cy="158.1" r="1.3"/><circle cx="219.3" cy="158.5" r="1.3"/><circle cx="220.4" cy="158.4" r="1.3"/><circle cx="213.0" cy="159.1" r="1.3"/><circle cx="216.4" cy="160.0" r="1.3"/><circle cx="208.9" cy="160.9" r="1.3"/><circle cx="209.8" cy="161.0" r="1.3"/><circle cx="214.6" cy="160.5" r="1.3"/><circle cx="219.1" cy="161.2" r="1.3"/><circle cx="220.5" cy="161.1" r="1.3"/><circle cx="206.0" cy="162.6" r="1.3"/><circle cx="208.1" cy="162.1" r="1.3"/><circle cx="213.1" cy="128.2" r="1.3"/><circle cx="219.0" cy="130.6" r="1.3"/><circle cx="211.0" cy="136.2" r="1.3"/><circle cx="212.7" cy="142.6" r="1.3"/><circle cx="219.7" cy="143.3" r="1.3"/><circle cx="218.3" cy="146.1" r="1.3"/><circle cx="214.1" cy="148.0" r="1.3"/><circle cx="219.0" cy="149.7" r="1.3"/><circle cx="204.6" cy="153.9" r="1.3"/><circle cx="212.7" cy="153.9" r="1.3"/><circle cx="219.7" cy="153.2" r="1.3"/>
</g>
<g fill="#2ea267">
<circle cx="103.9" cy="4.5" r="1.3"/><circle cx="115.8" cy="4.5" r="1.3"/><circle cx="122.0" cy="4.5" r="1.3"/><circle cx="139.4" cy="4.5" r="1.3"/><circle cx="144.8" cy="4.5" r="1.3"/><circle cx="164.4" cy="4.5" r="1.3"/><circle cx="174.5" cy="4.5" r="1.3"/><circle cx="177.8" cy="4.5" r="1.3"/><circle cx="169.8" cy="24.7" r="1.3"/><circle cx="112.5" cy="60.1" r="1.3"/><circle cx="176.8" cy="60.3" r="1.3"/><circle cx="183.5" cy="60.6" r="1.3"/><circle cx="165.2" cy="76.3" r="1.3"/><circle cx="169.8" cy="73.8" r="1.3"/><circle cx="89.0" cy="90.9" r="1.3"/><circle cx="156.6" cy="90.1" r="1.3"/><circle cx="163.0" cy="104.6" r="1.3"/><circle cx="166.2" cy="105.1" r="1.3"/><circle cx="141.5" cy="110.5" r="1.3"/><circle cx="159.1" cy="114.4" r="1.3"/><circle cx="163.8" cy="114.9" r="1.3"/><circle cx="181.3" cy="103.0" r="1.3"/><circle cx="178.5" cy="107.5" r="1.3"/><circle cx="178.1" cy="109.3" r="1.3"/><circle cx="178.9" cy="108.4" r="1.3"/><circle cx="184.5" cy="107.5" r="1.3"/><circle cx="147.8" cy="123.4" r="1.3"/><circle cx="159.1" cy="124.6" r="1.3"/><circle cx="111.9" cy="126.8" r="1.3"/><circle cx="151.8" cy="130.1" r="1.3"/><circle cx="130.9" cy="134.1" r="1.3"/><circle cx="121.8" cy="139.0" r="1.3"/><circle cx="162.4" cy="139.6" r="1.3"/><circle cx="165.7" cy="139.8" r="1.3"/><circle cx="184.1" cy="117.7" r="1.3"/><circle cx="183.9" cy="118.6" r="1.3"/><circle cx="180.1" cy="120.3" r="1.3"/><circle cx="180.5" cy="121.9" r="1.3"/><circle cx="180.9" cy="122.5" r="1.3"/><circle cx="179.1" cy="130.2" r="1.3"/><circle cx="179.5" cy="131.8" r="1.3"/><circle cx="176.4" cy="134.4" r="1.3"/><circle cx="174.7" cy="137.6" r="1.3"/><circle cx="179.5" cy="136.8" r="1.3"/><circle cx="180.9" cy="137.7" r="1.3"/><circle cx="134.5" cy="149.0" r="1.3"/><circle cx="163.7" cy="147.6" r="1.3"/><circle cx="125.7" cy="151.9" r="1.3"/><circle cx="169.0" cy="151.5" r="1.3"/><circle cx="157.9" cy="153.0" r="1.3"/><circle cx="154.1" cy="155.7" r="1.3"/><circle cx="155.6" cy="159.3" r="1.3"/><circle cx="159.2" cy="158.1" r="1.3"/><circle cx="159.2" cy="160.0" r="1.3"/><circle cx="164.9" cy="158.7" r="1.3"/><circle cx="147.8" cy="161.7" r="1.3"/><circle cx="150.1" cy="164.7" r="1.3"/><circle cx="152.9" cy="165.5" r="1.3"/><circle cx="157.4" cy="164.9" r="1.3"/><circle cx="162.5" cy="164.3" r="1.3"/><circle cx="133.8" cy="166.7" r="1.3"/><circle cx="132.0" cy="171.9" r="1.3"/><circle cx="147.5" cy="172.5" r="1.3"/><circle cx="148.9" cy="173.5" r="1.3"/><circle cx="154.7" cy="172.1" r="1.3"/><circle cx="153.3" cy="175.2" r="1.3"/><circle cx="139.1" cy="176.9" r="1.3"/><circle cx="141.5" cy="177.0" r="1.3"/><circle cx="56.5" cy="165.6" r="1.3"/><circle cx="66.9" cy="164.7" r="1.3"/><circle cx="80.8" cy="147.2" r="1.3"/><circle cx="81.8" cy="148.0" r="1.3"/><circle cx="85.9" cy="145.0" r="1.3"/><circle cx="86.5" cy="153.5" r="1.3"/><circle cx="86.8" cy="172.2" r="1.3"/><circle cx="101.4" cy="177.4" r="1.3"/><circle cx="102.8" cy="177.0" r="1.3"/><circle cx="111.8" cy="151.8" r="1.3"/><circle cx="111.8" cy="178.3" r="1.3"/><circle cx="115.1" cy="178.5" r="1.3"/><circle cx="116.5" cy="178.0" r="1.3"/><circle cx="168.9" cy="151.4" r="1.3"/><circle cx="169.6" cy="155.1" r="1.3"/><circle cx="169.1" cy="156.4" r="1.3"/><circle cx="183.0" cy="150.5" r="1.3"/><circle cx="165.0" cy="158.7" r="1.3"/><circle cx="171.1" cy="160.5" r="1.3"/><circle cx="162.6" cy="164.2" r="1.3"/><circle cx="171.9" cy="163.9" r="1.3"/><circle cx="175.7" cy="160.8" r="1.3"/><circle cx="178.3" cy="161.9" r="1.3"/><circle cx="180.3" cy="159.9" r="1.3"/><circle cx="180.8" cy="161.9" r="1.3"/><circle cx="182.9" cy="149.6" r="1.3"/><circle cx="163.8" cy="147.5" r="1.3"/><circle cx="162.6" cy="164.5" r="1.3"/><circle cx="178.4" cy="167.6" r="1.3"/><circle cx="180.9" cy="168.2" r="1.3"/><circle cx="182.3" cy="167.9" r="1.3"/><circle cx="183.7" cy="168.4" r="1.3"/><circle cx="172.4" cy="169.9" r="1.3"/><circle cx="175.2" cy="169.4" r="1.3"/><circle cx="176.7" cy="169.7" r="1.3"/><circle cx="181.2" cy="169.7" r="1.3"/><circle cx="182.0" cy="169.2" r="1.3"/><circle cx="183.8" cy="169.4" r="1.3"/><circle cx="162.7" cy="171.3" r="1.3"/><circle cx="164.7" cy="170.8" r="1.3"/><circle cx="166.2" cy="170.8" r="1.3"/><circle cx="167.8" cy="171.3" r="1.3"/><circle cx="170.0" cy="170.7" r="1.3"/><circle cx="183.6" cy="171.3" r="1.3"/><circle cx="164.6" cy="172.5" r="1.3"/><circle cx="165.6" cy="172.4" r="1.3"/><circle cx="167.2" cy="172.3" r="1.3"/><circle cx="169.2" cy="172.7" r="1.3"/><circle cx="170.2" cy="172.5" r="1.3"/><circle cx="172.4" cy="172.4" r="1.3"/><circle cx="173.9" cy="172.1" r="1.3"/><circle cx="174.8" cy="172.8" r="1.3"/><circle cx="179.8" cy="172.1" r="1.3"/><circle cx="180.9" cy="172.2" r="1.3"/><circle cx="183.9" cy="172.1" r="1.3"/><circle cx="162.7" cy="173.6" r="1.3"/><circle cx="165.0" cy="174.3" r="1.3"/><circle cx="166.2" cy="174.5" r="1.3"/><circle cx="167.1" cy="174.0" r="1.3"/><circle cx="168.7" cy="174.0" r="1.3"/><circle cx="172.4" cy="174.2" r="1.3"/><circle cx="173.2" cy="173.6" r="1.3"/><circle cx="175.3" cy="174.3" r="1.3"/><circle cx="179.8" cy="174.2" r="1.3"/><circle cx="180.7" cy="174.3" r="1.3"/><circle cx="182.4" cy="174.1" r="1.3"/><circle cx="164.9" cy="175.9" r="1.3"/><circle cx="166.0" cy="175.2" r="1.3"/><circle cx="170.1" cy="175.0" r="1.3"/><circle cx="171.7" cy="175.7" r="1.3"/><circle cx="176.5" cy="175.4" r="1.3"/><circle cx="179.9" cy="175.2" r="1.3"/><circle cx="180.9" cy="175.6" r="1.3"/><circle cx="182.2" cy="175.1" r="1.3"/><circle cx="163.1" cy="177.3" r="1.3"/><circle cx="164.7" cy="177.1" r="1.3"/><circle cx="166.1" cy="177.5" r="1.3"/><circle cx="167.6" cy="176.8" r="1.3"/><circle cx="169.4" cy="176.5" r="1.3"/><circle cx="170.7" cy="176.9" r="1.3"/><circle cx="172.2" cy="176.9" r="1.3"/><circle cx="173.4" cy="177.0" r="1.3"/><circle cx="174.9" cy="176.6" r="1.3"/><circle cx="176.9" cy="177.0" r="1.3"/><circle cx="178.4" cy="176.8" r="1.3"/><circle cx="179.5" cy="176.8" r="1.3"/><circle cx="181.1" cy="176.7" r="1.3"/><circle cx="182.1" cy="177.0" r="1.3"/><circle cx="183.6" cy="176.9" r="1.3"/><circle cx="173.7" cy="172.7" r="1.3"/><circle cx="178.9" cy="172.7" r="1.3"/><circle cx="180.1" cy="172.1" r="1.3"/><circle cx="183.2" cy="172.3" r="1.3"/><circle cx="169.6" cy="173.6" r="1.3"/><circle cx="170.6" cy="174.3" r="1.3"/><circle cx="177.4" cy="173.5" r="1.3"/><circle cx="180.3" cy="173.5" r="1.3"/><circle cx="181.8" cy="174.2" r="1.3"/><circle cx="169.6" cy="175.1" r="1.3"/><circle cx="170.7" cy="175.9" r="1.3"/><circle cx="172.0" cy="175.2" r="1.3"/><circle cx="174.0" cy="175.6" r="1.3"/><circle cx="175.4" cy="175.0" r="1.3"/><circle cx="176.8" cy="175.0" r="1.3"/><circle cx="179.0" cy="175.0" r="1.3"/><circle cx="180.2" cy="175.3" r="1.3"/><circle cx="181.5" cy="175.3" r="1.3"/><circle cx="171.1" cy="177.1" r="1.3"/><circle cx="174.4" cy="177.2" r="1.3"/><circle cx="175.8" cy="177.2" r="1.3"/><circle cx="177.1" cy="176.9" r="1.3"/><circle cx="178.4" cy="176.6" r="1.3"/><circle cx="179.8" cy="177.5" r="1.3"/><circle cx="181.4" cy="176.7" r="1.3"/><circle cx="182.8" cy="176.6" r="1.3"/><circle cx="159.8" cy="167.1" r="1.3"/><circle cx="158.6" cy="170.2" r="1.3"/><circle cx="160.0" cy="171.7" r="1.3"/><circle cx="159.4" cy="173.7" r="1.3"/><circle cx="158.7" cy="175.1" r="1.3"/><circle cx="167.4" cy="166.5" r="1.3"/><circle cx="181.8" cy="162.7" r="1.3"/><circle cx="168.5" cy="161.5" r="1.3"/><circle cx="175.7" cy="167.0" r="1.3"/><circle cx="177.5" cy="167.4" r="1.3"/><circle cx="169.8" cy="162.6" r="1.3"/><circle cx="179.5" cy="165.2" r="1.3"/><circle cx="173.3" cy="165.4" r="1.3"/><circle cx="172.1" cy="160.5" r="1.3"/><circle cx="173.5" cy="160.4" r="1.3"/><circle cx="177.3" cy="162.7" r="1.3"/><circle cx="174.9" cy="164.8" r="1.3"/><circle cx="170.6" cy="163.7" r="1.3"/><circle cx="166.2" cy="167.4" r="1.3"/><circle cx="176.2" cy="167.9" r="1.3"/><circle cx="167.0" cy="164.9" r="1.3"/>
</g>
<g fill="#f81238">
<circle cx="229.9" cy="4.5" r="1.3"/><circle cx="233.1" cy="4.5" r="1.3"/><circle cx="244.1" cy="4.5" r="1.3"/><circle cx="222.8" cy="13.7" r="1.3"/><circle cx="228.1" cy="12.6" r="1.3"/><circle cx="242.3" cy="16.4" r="1.3"/><circle cx="233.3" cy="38.1" r="1.3"/><circle cx="264.3" cy="40.9" r="1.3"/><circle cx="237.5" cy="51.3" r="1.3"/><circle cx="245.9" cy="53.3" r="1.3"/><circle cx="248.1" cy="55.3" r="1.3"/><circle cx="221.2" cy="64.0" r="1.3"/><circle cx="226.6" cy="65.0" r="1.3"/><circle cx="229.0" cy="75.1" r="1.3"/><circle cx="247.0" cy="87.8" r="1.3"/><circle cx="240.9" cy="98.8" r="1.3"/><circle cx="241.9" cy="101.5" r="1.3"/><circle cx="234.3" cy="104.1" r="1.3"/><circle cx="248.9" cy="104.6" r="1.3"/><circle cx="242.4" cy="109.2" r="1.3"/><circle cx="234.0" cy="115.9" r="1.3"/><circle cx="234.0" cy="120.1" r="1.3"/><circle cx="228.4" cy="122.7" r="1.3"/><circle cx="263.7" cy="121.2" r="1.3"/><circle cx="223.4" cy="125.1" r="1.3"/><circle cx="224.1" cy="126.7" r="1.3"/><circle cx="236.6" cy="131.4" r="1.3"/><circle cx="223.1" cy="134.7" r="1.3"/><circle cx="225.0" cy="135.5" r="1.3"/><circle cx="223.1" cy="140.7" r="1.3"/><circle cx="229.9" cy="141.3" r="1.3"/><circle cx="236.1" cy="143.0" r="1.3"/><circle cx="226.5" cy="144.1" r="1.3"/><circle cx="243.4" cy="149.2" r="1.3"/><circle cx="248.0" cy="155.4" r="1.3"/><circle cx="251.7" cy="155.4" r="1.3"/><circle cx="234.7" cy="157.7" r="1.3"/><circle cx="240.0" cy="158.0" r="1.3"/><circle cx="241.7" cy="160.0" r="1.3"/><circle cx="245.1" cy="160.0" r="1.3"/><circle cx="248.0" cy="160.0" r="1.3"/><circle cx="238.6" cy="164.5" r="1.3"/><circle cx="241.2" cy="167.6" r="1.3"/><circle cx="244.2" cy="167.6" r="1.3"/><circle cx="243.1" cy="172.9" r="1.3"/><circle cx="252.5" cy="171.6" r="1.3"/><circle cx="256.4" cy="172.0" r="1.3"/><circle cx="251.9" cy="177.2" r="1.3"/><circle cx="253.3" cy="177.0" r="1.3"/><circle cx="259.3" cy="140.5" r="1.3"/><circle cx="274.4" cy="178.2" r="1.3"/><circle cx="260.0" cy="176.0" r="1.3"/><circle cx="261.4" cy="178.0" r="1.3"/><circle cx="227.0" cy="147.0" r="1.3"/><circle cx="230.0" cy="150.0" r="1.3"/><circle cx="224.0" cy="148.0" r="1.3"/><circle cx="232.0" cy="152.0" r="1.3"/><circle cx="226.0" cy="153.0" r="1.3"/><circle cx="229.0" cy="155.0" r="1.3"/><circle cx="223.0" cy="157.0" r="1.3"/><circle cx="236.0" cy="149.0" r="1.3"/><circle cx="224.3" cy="161.8" r="1.3"/><circle cx="224.6" cy="163.4" r="1.3"/><circle cx="226.4" cy="162.5" r="1.3"/><circle cx="227.2" cy="162.5" r="1.3"/><circle cx="230.4" cy="162.6" r="1.3"/><circle cx="232.2" cy="163.4" r="1.3"/><circle cx="232.9" cy="163.2" r="1.3"/><circle cx="222.8" cy="164.5" r="1.3"/><circle cx="225.1" cy="164.0" r="1.3"/><circle cx="227.7" cy="164.1" r="1.3"/><circle cx="228.8" cy="164.3" r="1.3"/><circle cx="230.2" cy="164.7" r="1.3"/><circle cx="231.7" cy="164.9" r="1.3"/><circle cx="222.0" cy="165.9" r="1.3"/><circle cx="223.3" cy="166.2" r="1.3"/><circle cx="228.1" cy="165.6" r="1.3"/><circle cx="228.7" cy="166.3" r="1.3"/><circle cx="231.5" cy="165.5" r="1.3"/><circle cx="224.5" cy="167.7" r="1.3"/><circle cx="226.1" cy="166.9" r="1.3"/><circle cx="227.3" cy="167.5" r="1.3"/><circle cx="229.3" cy="167.3" r="1.3"/><circle cx="233.8" cy="167.5" r="1.3"/><circle cx="234.5" cy="167.1" r="1.3"/><circle cx="235.8" cy="167.3" r="1.3"/><circle cx="222.0" cy="168.8" r="1.3"/><circle cx="224.9" cy="168.6" r="1.3"/><circle cx="226.1" cy="169.2" r="1.3"/><circle cx="227.5" cy="168.7" r="1.3"/><circle cx="229.5" cy="168.3" r="1.3"/><circle cx="230.9" cy="168.5" r="1.3"/><circle cx="231.8" cy="168.5" r="1.3"/><circle cx="235.3" cy="168.3" r="1.3"/><circle cx="236.1" cy="168.9" r="1.3"/><circle cx="222.2" cy="170.2" r="1.3"/><circle cx="223.7" cy="169.9" r="1.3"/><circle cx="224.9" cy="170.1" r="1.3"/><circle cx="226.0" cy="170.2" r="1.3"/><circle cx="227.8" cy="170.0" r="1.3"/><circle cx="229.1" cy="169.9" r="1.3"/><circle cx="230.3" cy="170.6" r="1.3"/><circle cx="232.2" cy="170.2" r="1.3"/><circle cx="234.9" cy="170.2" r="1.3"/><circle cx="236.6" cy="169.9" r="1.3"/><circle cx="238.1" cy="170.2" r="1.3"/><circle cx="222.2" cy="171.2" r="1.3"/><circle cx="223.6" cy="172.0" r="1.3"/><circle cx="224.4" cy="171.4" r="1.3"/><circle cx="226.0" cy="172.0" r="1.3"/><circle cx="227.6" cy="171.2" r="1.3"/><circle cx="229.5" cy="171.8" r="1.3"/><circle cx="231.6" cy="171.8" r="1.3"/><circle cx="233.4" cy="171.4" r="1.3"/><circle cx="234.7" cy="171.5" r="1.3"/><circle cx="236.0" cy="171.7" r="1.3"/><circle cx="237.4" cy="171.9" r="1.3"/><circle cx="223.6" cy="172.8" r="1.3"/><circle cx="225.0" cy="173.2" r="1.3"/><circle cx="225.7" cy="173.0" r="1.3"/><circle cx="227.8" cy="172.9" r="1.3"/><circle cx="229.2" cy="173.4" r="1.3"/><circle cx="231.6" cy="173.6" r="1.3"/><circle cx="233.3" cy="173.3" r="1.3"/><circle cx="234.4" cy="173.4" r="1.3"/><circle cx="238.0" cy="172.6" r="1.3"/><circle cx="223.6" cy="174.5" r="1.3"/><circle cx="224.7" cy="174.9" r="1.3"/><circle cx="226.4" cy="174.5" r="1.3"/><circle cx="229.3" cy="174.2" r="1.3"/><circle cx="230.1" cy="174.9" r="1.3"/><circle cx="231.5" cy="174.8" r="1.3"/><circle cx="233.0" cy="174.7" r="1.3"/><circle cx="234.8" cy="174.1" r="1.3"/><circle cx="238.1" cy="174.9" r="1.3"/><circle cx="239.0" cy="174.6" r="1.3"/><circle cx="222.3" cy="175.8" r="1.3"/><circle cx="224.8" cy="176.0" r="1.3"/><circle cx="227.9" cy="176.4" r="1.3"/><circle cx="228.8" cy="175.6" r="1.3"/><circle cx="230.4" cy="176.0" r="1.3"/><circle cx="233.1" cy="176.4" r="1.3"/><circle cx="234.4" cy="175.8" r="1.3"/><circle cx="236.2" cy="176.1" r="1.3"/><circle cx="237.5" cy="176.3" r="1.3"/><circle cx="239.4" cy="176.3" r="1.3"/><circle cx="224.3" cy="177.4" r="1.3"/><circle cx="227.2" cy="177.5" r="1.3"/><circle cx="230.5" cy="177.6" r="1.3"/><circle cx="234.6" cy="177.1" r="1.3"/><circle cx="237.7" cy="177.6" r="1.3"/><circle cx="239.6" cy="177.6" r="1.3"/><circle cx="222.8" cy="166.3" r="1.3"/><circle cx="225.1" cy="167.5" r="1.3"/><circle cx="226.0" cy="167.7" r="1.3"/><circle cx="228.0" cy="167.0" r="1.3"/><circle cx="229.4" cy="167.5" r="1.3"/><circle cx="233.1" cy="167.9" r="1.3"/><circle cx="234.9" cy="167.9" r="1.3"/><circle cx="223.0" cy="168.5" r="1.3"/><circle cx="226.2" cy="168.9" r="1.3"/><circle cx="228.7" cy="169.0" r="1.3"/><circle cx="230.4" cy="169.1" r="1.3"/><circle cx="231.6" cy="169.3" r="1.3"/><circle cx="233.7" cy="169.3" r="1.3"/><circle cx="235.9" cy="168.9" r="1.3"/><circle cx="221.8" cy="170.2" r="1.3"/><circle cx="223.2" cy="170.1" r="1.3"/><circle cx="224.4" cy="170.7" r="1.3"/><circle cx="227.6" cy="170.6" r="1.3"/><circle cx="230.2" cy="170.1" r="1.3"/><circle cx="231.8" cy="170.4" r="1.3"/><circle cx="233.8" cy="169.9" r="1.3"/><circle cx="236.5" cy="169.9" r="1.3"/><circle cx="222.0" cy="172.1" r="1.3"/><circle cx="224.2" cy="172.2" r="1.3"/><circle cx="226.1" cy="171.4" r="1.3"/><circle cx="227.8" cy="172.0" r="1.3"/><circle cx="228.9" cy="171.4" r="1.3"/><circle cx="232.4" cy="172.1" r="1.3"/><circle cx="235.1" cy="171.9" r="1.3"/><circle cx="237.3" cy="172.0" r="1.3"/><circle cx="222.0" cy="173.5" r="1.3"/><circle cx="227.9" cy="173.6" r="1.3"/><circle cx="231.7" cy="173.6" r="1.3"/><circle cx="233.1" cy="173.2" r="1.3"/><circle cx="223.6" cy="174.5" r="1.3"/><circle cx="225.0" cy="175.0" r="1.3"/><circle cx="226.1" cy="174.2" r="1.3"/><circle cx="229.0" cy="174.5" r="1.3"/><circle cx="231.7" cy="174.3" r="1.3"/><circle cx="235.8" cy="175.0" r="1.3"/><circle cx="237.5" cy="175.2" r="1.3"/><circle cx="221.9" cy="176.5" r="1.3"/><circle cx="223.2" cy="176.6" r="1.3"/><circle cx="225.8" cy="176.2" r="1.3"/><circle cx="227.3" cy="176.6" r="1.3"/><circle cx="229.4" cy="175.9" r="1.3"/><circle cx="233.8" cy="176.3" r="1.3"/><circle cx="224.9" cy="177.7" r="1.3"/><circle cx="228.6" cy="177.4" r="1.3"/><circle cx="231.6" cy="177.7" r="1.3"/><circle cx="236.1" cy="177.6" r="1.3"/><circle cx="231.9" cy="154.5" r="1.3"/><circle cx="225.9" cy="143.4" r="1.3"/><circle cx="230.1" cy="157.3" r="1.3"/><circle cx="233.1" cy="147.3" r="1.3"/><circle cx="224.0" cy="150.8" r="1.3"/><circle cx="234.3" cy="143.4" r="1.3"/><circle cx="232.3" cy="143.6" r="1.3"/><circle cx="226.4" cy="141.1" r="1.3"/><circle cx="226.2" cy="148.0" r="1.3"/><circle cx="235.5" cy="160.2" r="1.3"/><circle cx="224.6" cy="146.5" r="1.3"/><circle cx="235.2" cy="144.1" r="1.3"/><circle cx="226.5" cy="149.2" r="1.3"/><circle cx="223.5" cy="145.5" r="1.3"/><circle cx="227.5" cy="148.1" r="1.3"/><circle cx="235.5" cy="145.6" r="1.3"/><circle cx="224.9" cy="159.1" r="1.3"/><circle cx="228.3" cy="157.6" r="1.3"/><circle cx="230.9" cy="156.4" r="1.3"/><circle cx="226.4" cy="143.2" r="1.3"/><circle cx="232.6" cy="149.9" r="1.3"/><circle cx="229.8" cy="154.1" r="1.3"/>
</g>
</g>
<line x1="184.4" y1="4.4" x2="184.4" y2="187.4" stroke="#ababab" stroke-width="0.8" fill="none" stroke-dasharray="3.6 2.2 0.9 2.73" stroke-dashoffset="1.83"/>
<line x1="221.4" y1="4.4" x2="221.4" y2="187.4" stroke="#ababab" stroke-width="0.8" fill="none" stroke-dasharray="3.6 2.2 0.9 2.73" stroke-dashoffset="1.83"/>
<line x1="45.8" y1="178.6" x2="285.4" y2="178.6" stroke="#ababab" stroke-width="0.8" fill="none" stroke-dasharray="3.7 2.0 0.9 2.76" stroke-dashoffset="6.16"/>
<rect x="45.8" y="4.4" width="239.6" height="183.0" fill="none" stroke="#7a7a7a" stroke-width="1.1"/>
<line x1="43.4" y1="14.4" x2="45.8" y2="14.4" stroke="#333" stroke-width="0.9"/>
<text x="42.0" y="17.0" font-size="7.2" fill="#5a5a5a" text-anchor="end" letter-spacing="0.25">300</text>
<line x1="43.4" y1="69.5" x2="45.8" y2="69.5" stroke="#333" stroke-width="0.9"/>
<text x="42.0" y="72.1" font-size="7.2" fill="#5a5a5a" text-anchor="end" letter-spacing="0.25">200</text>
<line x1="43.4" y1="124.8" x2="45.8" y2="124.8" stroke="#333" stroke-width="0.9"/>
<text x="42.0" y="127.39999999999999" font-size="7.2" fill="#5a5a5a" text-anchor="end" letter-spacing="0.25">100</text>
<line x1="43.4" y1="178.7" x2="45.8" y2="178.7" stroke="#333" stroke-width="0.9"/>
<text x="42.0" y="181.29999999999998" font-size="7.2" fill="#5a5a5a" text-anchor="end" letter-spacing="0.25">2.3</text>
<line x1="129.5" y1="187.4" x2="129.5" y2="189.9" stroke="#333" stroke-width="0.9"/>
<text x="129.62" y="197.3" font-size="7.2" fill="#5a5a5a" text-anchor="middle" letter-spacing="0.25">-4</text>
<line x1="184.4" y1="187.4" x2="184.4" y2="189.9" stroke="#333" stroke-width="0.9"/>
<text x="184.52" y="197.3" font-size="7.2" fill="#5a5a5a" text-anchor="middle" letter-spacing="0.25">-1</text>
<line x1="221.4" y1="187.4" x2="221.4" y2="189.9" stroke="#333" stroke-width="0.9"/>
<text x="221.52" y="197.3" font-size="7.2" fill="#5a5a5a" text-anchor="middle" letter-spacing="0.25">1</text>
<line x1="276" y1="187.4" x2="276" y2="189.9" stroke="#333" stroke-width="0.9"/>
<text x="276.12" y="197.3" font-size="7.2" fill="#5a5a5a" text-anchor="middle" letter-spacing="0.25">4</text>
<text x="165.6" y="206.8" font-size="8.6" text-anchor="middle" fill="#222">log<tspan font-size="6" dy="1.8">2</tspan><tspan dy="-1.8">(fold change)</tspan></text>
<text transform="translate(24.9,96.4) rotate(-90)" font-size="8.8" text-anchor="middle" fill="#222">− log<tspan font-size="5.8" dy="1.8">10</tspan><tspan dy="-1.8">(qval)</tspan></text>
<text x="298.7" y="83.9" font-size="8.8" fill="#222">DEGs ( 539 )</text>
<rect x="298.5" y="88.7" width="13.8" height="27.5" fill="#f2f2f2"/>
<circle cx="305.5" cy="95.8" r="1.3" fill="#f81238"/>
<circle cx="305.5" cy="109.3" r="1.3" fill="#2ea267"/>
<text x="316.8" y="98.5" font-size="7" fill="#222">up: 272</text>
<text x="316.8" y="112" font-size="7" fill="#222">down: 267</text>
<text transform="translate(341.5,13.6) scale(0.81,1)" font-size="13.6" font-weight="bold">B</text>
<circle cx="462.1" cy="99.6" r="83.8" fill="#f0f298"/>
<circle cx="546.1" cy="99.6" r="83.8" fill="#e0b0fd"/>
<clipPath id="cl"><circle cx="462.1" cy="99.6" r="83.8"/></clipPath>
<circle cx="546.1" cy="99.6" r="83.8" fill="#dca6c8" clip-path="url(#cl)"/>
<text transform="translate(446.1,8.3) scale(0.95,1)" font-size="10.4" font-weight="bold" text-anchor="middle">ATCC19606</text>
<text transform="translate(522,8.3) scale(0.95,1)" font-size="10.4" font-weight="bold">ATCC19606Δ<tspan font-style="italic">cas3</tspan></text>
<text transform="translate(420.2,103.7) scale(0.88,1)" font-size="11" text-anchor="middle">78</text>
<text transform="translate(503.6,103.7) scale(0.88,1)" font-size="11" text-anchor="middle">3451</text>
<text transform="translate(587.9,103.7) scale(0.88,1)" font-size="11" text-anchor="middle">34</text>
<text transform="translate(0.1,238.8) scale(0.87,1)" font-size="14.2" font-weight="bold" stroke="#000" stroke-width="0.35">C</text>
<rect x="130.5" y="234.4" width="147.0" height="209.8" fill="none" stroke="#9a9a9a" stroke-width="0.8"/>
<rect x="130.25" y="235.15" width="123.55" height="6.3" fill="#3300ff"/>
<line x1="128.6" y1="238.30" x2="130.5" y2="238.30" stroke="#333" stroke-width="0.5"/>
<text transform="translate(128.2,240.05) scale(1,1.22)" font-size="4.1" font-weight="bold" text-anchor="end" fill="#111" stroke="#111" stroke-width="0.04">oxidation-reduction process</text>
<rect x="130.25" y="242.12" width="33.26" height="6.3" fill="#3300ff"/>
<line x1="128.6" y1="245.27" x2="130.5" y2="245.27" stroke="#333" stroke-width="0.5"/>
<text transform="translate(128.2,247.02) scale(1,1.22)" font-size="4.1" font-weight="bold" text-anchor="end" fill="#111" stroke="#111" stroke-width="0.04">fatty acid metabolic process</text>
<rect x="130.25" y="249.08" width="33.26" height="6.3" fill="#3300ff"/>
<line x1="128.6" y1="252.23" x2="130.5" y2="252.23" stroke="#333" stroke-width="0.5"/>
<text transform="translate(128.2,253.98) scale(1,1.22)" font-size="4.1" font-weight="bold" text-anchor="end" fill="#111" stroke="#111" stroke-width="0.04">cation transport</text>
<rect x="130.25" y="256.05" width="33.26" height="6.3" fill="#3300ff"/>
<line x1="128.6" y1="259.20" x2="130.5" y2="259.20" stroke="#333" stroke-width="0.5"/>
<text transform="translate(128.2,260.95) scale(1,1.22)" font-size="4.1" font-weight="bold" text-anchor="end" fill="#111" stroke="#111" stroke-width="0.04">monocarboxylic acid metabolic process</text>
<rect x="130.25" y="263.02" width="26.93" height="6.3" fill="#3300ff"/>
<line x1="128.6" y1="266.17" x2="130.5" y2="266.17" stroke="#333" stroke-width="0.5"/>
<text transform="translate(128.2,267.92) scale(1,1.22)" font-size="4.1" font-weight="bold" text-anchor="end" fill="#111" stroke="#111" stroke-width="0.04">metal ion transport</text>
<rect x="130.25" y="269.99" width="23.76" height="6.3" fill="#3300ff"/>
<line x1="128.6" y1="273.13" x2="130.5" y2="273.13" stroke="#333" stroke-width="0.5"/>
<text transform="translate(128.2,274.88) scale(1,1.22)" font-size="4.1" font-weight="bold" text-anchor="end" fill="#111" stroke="#111" stroke-width="0.04">monovalent inorganic cation transport</text>
<rect x="130.25" y="276.95" width="19.01" height="6.3" fill="#3300ff"/>
<line x1="128.6" y1="280.10" x2="130.5" y2="280.10" stroke="#333" stroke-width="0.5"/>
<text transform="translate(128.2,281.85) scale(1,1.22)" font-size="4.1" font-weight="bold" text-anchor="end" fill="#111" stroke="#111" stroke-width="0.04">potassium ion transport</text>
<rect x="130.25" y="283.92" width="9.50" height="6.3" fill="#3300ff"/>
<line x1="128.6" y1="287.07" x2="130.5" y2="287.07" stroke="#333" stroke-width="0.5"/>
<text transform="translate(128.2,288.82) scale(1,1.22)" font-size="4.1" font-weight="bold" text-anchor="end" fill="#111" stroke="#111" stroke-width="0.04">cell differentiation</text>
<rect x="130.25" y="290.89" width="9.50" height="6.3" fill="#3300ff"/>
<line x1="128.6" y1="294.04" x2="130.5" y2="294.04" stroke="#333" stroke-width="0.5"/>
<text transform="translate(128.2,295.79) scale(1,1.22)" font-size="4.1" font-weight="bold" text-anchor="end" fill="#111" stroke="#111" stroke-width="0.04">cellular developmental process</text>
<rect x="130.25" y="297.85" width="7.92" height="6.3" fill="#3300ff"/>
<line x1="128.6" y1="301.00" x2="130.5" y2="301.00" stroke="#333" stroke-width="0.5"/>
<text transform="translate(128.2,302.75) scale(1,1.22)" font-size="4.1" font-weight="bold" text-anchor="end" fill="#111" stroke="#111" stroke-width="0.04">multicellular organism development</text>
<rect x="130.25" y="304.82" width="6.34" height="6.3" fill="#3300ff"/>
<line x1="128.6" y1="307.97" x2="130.5" y2="307.97" stroke="#333" stroke-width="0.5"/>
<text transform="translate(128.2,309.72) scale(1,1.22)" font-size="4.1" font-weight="bold" text-anchor="end" fill="#111" stroke="#111" stroke-width="0.04">cell development</text>
<rect x="130.25" y="311.79" width="4.75" height="6.3" fill="#3300ff"/>
<line x1="128.6" y1="314.94" x2="130.5" y2="314.94" stroke="#333" stroke-width="0.5"/>
<text transform="translate(128.2,316.69) scale(1,1.22)" font-size="4.1" font-weight="bold" text-anchor="end" fill="#111" stroke="#111" stroke-width="0.04">plasma membrane bounded cell projection organizati...</text>
<rect x="130.25" y="318.75" width="47.52" height="6.3" fill="#daa12c"/>
<line x1="128.6" y1="321.90" x2="130.5" y2="321.90" stroke="#333" stroke-width="0.5"/>
<text transform="translate(128.2,323.65) scale(1,1.22)" font-size="4.1" font-weight="bold" text-anchor="end" fill="#111" stroke="#111" stroke-width="0.04">protein-containing complex</text>
<rect x="130.25" y="325.72" width="19.01" height="6.3" fill="#daa12c"/>
<line x1="128.6" y1="328.87" x2="130.5" y2="328.87" stroke="#333" stroke-width="0.5"/>
<text transform="translate(128.2,330.62) scale(1,1.22)" font-size="4.1" font-weight="bold" text-anchor="end" fill="#111" stroke="#111" stroke-width="0.04">envelope</text>
<rect x="130.25" y="332.69" width="12.67" height="6.3" fill="#daa12c"/>
<line x1="128.6" y1="335.84" x2="130.5" y2="335.84" stroke="#333" stroke-width="0.5"/>
<text transform="translate(128.2,337.59) scale(1,1.22)" font-size="4.1" font-weight="bold" text-anchor="end" fill="#111" stroke="#111" stroke-width="0.04">mitochondrial envelope</text>
<rect x="130.25" y="339.66" width="12.67" height="6.3" fill="#daa12c"/>
<line x1="128.6" y1="342.81" x2="130.5" y2="342.81" stroke="#333" stroke-width="0.5"/>
<text transform="translate(128.2,344.56) scale(1,1.22)" font-size="4.1" font-weight="bold" text-anchor="end" fill="#111" stroke="#111" stroke-width="0.04">mitochondrial membrane</text>
<rect x="130.25" y="346.62" width="12.67" height="6.3" fill="#daa12c"/>
<line x1="128.6" y1="349.77" x2="130.5" y2="349.77" stroke="#333" stroke-width="0.5"/>
<text transform="translate(128.2,351.52) scale(1,1.22)" font-size="4.1" font-weight="bold" text-anchor="end" fill="#111" stroke="#111" stroke-width="0.04">organelle envelope</text>
<rect x="130.25" y="353.59" width="9.50" height="6.3" fill="#daa12c"/>
<line x1="128.6" y1="356.74" x2="130.5" y2="356.74" stroke="#333" stroke-width="0.5"/>
<text transform="translate(128.2,358.49) scale(1,1.22)" font-size="4.1" font-weight="bold" text-anchor="end" fill="#111" stroke="#111" stroke-width="0.04">transferase complex</text>
<rect x="130.25" y="360.56" width="9.50" height="6.3" fill="#daa12c"/>
<line x1="128.6" y1="363.71" x2="130.5" y2="363.71" stroke="#333" stroke-width="0.5"/>
<text transform="translate(128.2,365.46) scale(1,1.22)" font-size="4.1" font-weight="bold" text-anchor="end" fill="#111" stroke="#111" stroke-width="0.04">mitochondrial protein complex</text>
<rect x="130.25" y="367.52" width="6.34" height="6.3" fill="#daa12c"/>
<line x1="128.6" y1="370.67" x2="130.5" y2="370.67" stroke="#333" stroke-width="0.5"/>
<text transform="translate(128.2,372.42) scale(1,1.22)" font-size="4.1" font-weight="bold" text-anchor="end" fill="#111" stroke="#111" stroke-width="0.04">inner mitochondrial membrane protein complex</text>
<rect x="130.25" y="374.49" width="126.72" height="6.3" fill="#b52228"/>
<line x1="128.6" y1="377.64" x2="130.5" y2="377.64" stroke="#333" stroke-width="0.5"/>
<text transform="translate(128.2,379.39) scale(1,1.22)" font-size="4.1" font-weight="bold" text-anchor="end" fill="#111" stroke="#111" stroke-width="0.04">oxidoreductase activity</text>
<rect x="130.25" y="381.46" width="41.18" height="6.3" fill="#b52228"/>
<line x1="128.6" y1="384.61" x2="130.5" y2="384.61" stroke="#333" stroke-width="0.5"/>
<text transform="translate(128.2,386.36) scale(1,1.22)" font-size="4.1" font-weight="bold" text-anchor="end" fill="#111" stroke="#111" stroke-width="0.04">flavin adenine dinucleotide binding</text>
<rect x="130.25" y="388.42" width="33.26" height="6.3" fill="#b52228"/>
<line x1="128.6" y1="391.57" x2="130.5" y2="391.57" stroke="#333" stroke-width="0.5"/>
<text transform="translate(128.2,393.32) scale(1,1.22)" font-size="4.1" font-weight="bold" text-anchor="end" fill="#111" stroke="#111" stroke-width="0.04">oxidoreductase activity, acting on the CH-CH group...</text>
<rect x="130.25" y="395.39" width="23.76" height="6.3" fill="#b52228"/>
<line x1="128.6" y1="398.54" x2="130.5" y2="398.54" stroke="#333" stroke-width="0.5"/>
<text transform="translate(128.2,400.29) scale(1,1.22)" font-size="4.1" font-weight="bold" text-anchor="end" fill="#111" stroke="#111" stroke-width="0.04">3-hydroxyacyl-CoA dehydrogenase activity</text>
<rect x="130.25" y="402.36" width="7.92" height="6.3" fill="#b52228"/>
<line x1="128.6" y1="405.51" x2="130.5" y2="405.51" stroke="#333" stroke-width="0.5"/>
<text transform="translate(128.2,407.26) scale(1,1.22)" font-size="4.1" font-weight="bold" text-anchor="end" fill="#111" stroke="#111" stroke-width="0.04">potassium ion transmembrane transporter activity</text>
<rect x="130.25" y="409.33" width="6.34" height="6.3" fill="#b52228"/>
<line x1="128.6" y1="412.48" x2="130.5" y2="412.48" stroke="#333" stroke-width="0.5"/>
<text transform="translate(128.2,414.23) scale(1,1.22)" font-size="4.1" font-weight="bold" text-anchor="end" fill="#111" stroke="#111" stroke-width="0.04">acyl-CoA dehydrogenase activity</text>
<rect x="130.25" y="416.29" width="4.75" height="6.3" fill="#b52228"/>
<line x1="128.6" y1="419.44" x2="130.5" y2="419.44" stroke="#333" stroke-width="0.5"/>
<text transform="translate(128.2,421.19) scale(1,1.22)" font-size="4.1" font-weight="bold" text-anchor="end" fill="#111" stroke="#111" stroke-width="0.04">lysine N-methyltransferase activity</text>
<rect x="130.25" y="423.26" width="4.75" height="6.3" fill="#b52228"/>
<line x1="128.6" y1="426.41" x2="130.5" y2="426.41" stroke="#333" stroke-width="0.5"/>
<text transform="translate(128.2,428.16) scale(1,1.22)" font-size="4.1" font-weight="bold" text-anchor="end" fill="#111" stroke="#111" stroke-width="0.04">protein-lysine N-methyltransferase activity</text>
<rect x="130.25" y="430.23" width="4.75" height="6.3" fill="#b52228"/>
<line x1="128.6" y1="433.38" x2="130.5" y2="433.38" stroke="#333" stroke-width="0.5"/>
<text transform="translate(128.2,435.13) scale(1,1.22)" font-size="4.1" font-weight="bold" text-anchor="end" fill="#111" stroke="#111" stroke-width="0.04">histone-lysine N-methyltransferase activity</text>
<rect x="130.25" y="437.19" width="4.75" height="6.3" fill="#b52228"/>
<line x1="128.6" y1="440.34" x2="130.5" y2="440.34" stroke="#333" stroke-width="0.5"/>
<text transform="translate(128.2,442.09) scale(1,1.22)" font-size="4.1" font-weight="bold" text-anchor="end" fill="#111" stroke="#111" stroke-width="0.04">histone methyltransferase activity</text>
<line x1="130.5" y1="234.4" x2="130.5" y2="444.2" stroke="#000" stroke-width="1"/>
<line x1="130.5" y1="444.2" x2="277.5" y2="444.2" stroke="#000" stroke-width="1"/>
<line x1="130.5" y1="444.2" x2="130.5" y2="445.5" stroke="#333" stroke-width="0.5"/>
<text x="130.5" y="449.8" font-size="4.6" text-anchor="middle" fill="#111">0</text>
<line x1="170.0" y1="444.2" x2="170.0" y2="445.5" stroke="#333" stroke-width="0.5"/>
<text x="170.0" y="449.8" font-size="4.6" text-anchor="middle" fill="#111">25</text>
<line x1="209.5" y1="444.2" x2="209.5" y2="445.5" stroke="#333" stroke-width="0.5"/>
<text x="209.5" y="449.8" font-size="4.6" text-anchor="middle" fill="#111">50</text>
<line x1="249.0" y1="444.2" x2="249.0" y2="445.5" stroke="#333" stroke-width="0.5"/>
<text x="249.0" y="449.8" font-size="4.6" text-anchor="middle" fill="#111">75</text>
<text x="204.1" y="455.9" font-size="5.7" font-weight="bold" text-anchor="middle" fill="#000" stroke="#000" stroke-width="0.25">Number of genes</text>
<text transform="translate(19.0,338.8) rotate(-90)" font-size="6.2" font-weight="bold" text-anchor="middle" fill="#000" stroke="#000" stroke-width="0.3">GO term</text>
<rect x="282.4" y="321.9" width="53.1" height="34.4" fill="none" stroke="#111" stroke-width="1.2" stroke-dasharray="3.5 3.6" stroke-dashoffset="3.8"/>
<text x="284.7" y="329.5" font-size="5.8" font-weight="bold" fill="#000" stroke="#000" stroke-width="0.3">type</text>
<rect x="285.1" y="333.10" width="6.4" height="6.3" fill="#3300ff"/>
<text transform="translate(294.8,337.70) scale(1,1.2)" font-size="4.45" fill="#000" stroke="#000" stroke-width="0.12">biological_process</text>
<rect x="285.1" y="340.35" width="6.4" height="6.3" fill="#daa12c"/>
<text transform="translate(294.8,344.95) scale(1,1.2)" font-size="4.45" fill="#000" stroke="#000" stroke-width="0.12">cellular_component</text>
<rect x="285.1" y="347.60" width="6.4" height="6.3" fill="#b52228"/>
<text transform="translate(294.8,352.20) scale(1,1.2)" font-size="4.45" fill="#000" stroke="#000" stroke-width="0.12">molecular_function</text>
<text x="341.3" y="237.8" font-size="12.9" font-weight="bold">D</text>
<line x1="483.2" y1="238.4" x2="483.2" y2="446.6" stroke="#f3f3f3" stroke-width="0.5"/>
<line x1="534.1" y1="238.4" x2="534.1" y2="446.6" stroke="#f3f3f3" stroke-width="0.5"/>
<line x1="585.0" y1="238.4" x2="585.0" y2="446.6" stroke="#f3f3f3" stroke-width="0.5"/>
<line x1="508.6" y1="238.4" x2="508.6" y2="446.6" stroke="#ececec" stroke-width="0.8"/>
<line x1="508.6" y1="446.6" x2="508.6" y2="448.1" stroke="#333" stroke-width="0.6"/>
<text x="508.6" y="452.7" font-size="5.1" text-anchor="middle" fill="#111">0.3</text>
<line x1="559.5" y1="238.4" x2="559.5" y2="446.6" stroke="#ececec" stroke-width="0.8"/>
<line x1="559.5" y1="446.6" x2="559.5" y2="448.1" stroke="#333" stroke-width="0.6"/>
<text x="559.5" y="452.7" font-size="5.1" text-anchor="middle" fill="#111">0.4</text>
<line x1="610.4" y1="238.4" x2="610.4" y2="446.6" stroke="#ececec" stroke-width="0.8"/>
<line x1="610.4" y1="446.6" x2="610.4" y2="448.1" stroke="#333" stroke-width="0.6"/>
<text x="610.4" y="452.7" font-size="5.1" text-anchor="middle" fill="#111">0.5</text>
<line x1="471.9" y1="244.40" x2="638.7" y2="244.40" stroke="#f0f0f0" stroke-width="0.7"/>
<line x1="471.9" y1="254.74" x2="638.7" y2="254.74" stroke="#f0f0f0" stroke-width="0.7"/>
<line x1="471.9" y1="265.08" x2="638.7" y2="265.08" stroke="#f0f0f0" stroke-width="0.7"/>
<line x1="471.9" y1="275.42" x2="638.7" y2="275.42" stroke="#f0f0f0" stroke-width="0.7"/>
<line x1="471.9" y1="285.76" x2="638.7" y2="285.76" stroke="#f0f0f0" stroke-width="0.7"/>
<line x1="471.9" y1="296.10" x2="638.7" y2="296.10" stroke="#f0f0f0" stroke-width="0.7"/>
<line x1="471.9" y1="306.44" x2="638.7" y2="306.44" stroke="#f0f0f0" stroke-width="0.7"/>
<line x1="471.9" y1="316.78" x2="638.7" y2="316.78" stroke="#f0f0f0" stroke-width="0.7"/>
<line x1="471.9" y1="327.12" x2="638.7" y2="327.12" stroke="#f0f0f0" stroke-width="0.7"/>
<line x1="471.9" y1="337.46" x2="638.7" y2="337.46" stroke="#f0f0f0" stroke-width="0.7"/>
<line x1="471.9" y1="347.80" x2="638.7" y2="347.80" stroke="#f0f0f0" stroke-width="0.7"/>
<line x1="471.9" y1="358.14" x2="638.7" y2="358.14" stroke="#f0f0f0" stroke-width="0.7"/>
<line x1="471.9" y1="368.48" x2="638.7" y2="368.48" stroke="#f0f0f0" stroke-width="0.7"/>
<line x1="471.9" y1="378.82" x2="638.7" y2="378.82" stroke="#f0f0f0" stroke-width="0.7"/>
<line x1="471.9" y1="389.16" x2="638.7" y2="389.16" stroke="#f0f0f0" stroke-width="0.7"/>
<line x1="471.9" y1="399.50" x2="638.7" y2="399.50" stroke="#f0f0f0" stroke-width="0.7"/>
<line x1="471.9" y1="409.84" x2="638.7" y2="409.84" stroke="#f0f0f0" stroke-width="0.7"/>
<line x1="471.9" y1="420.18" x2="638.7" y2="420.18" stroke="#f0f0f0" stroke-width="0.7"/>
<line x1="471.9" y1="430.52" x2="638.7" y2="430.52" stroke="#f0f0f0" stroke-width="0.7"/>
<line x1="471.9" y1="440.86" x2="638.7" y2="440.86" stroke="#f0f0f0" stroke-width="0.7"/>
<line x1="470.59999999999997" y1="244.40" x2="471.9" y2="244.40" stroke="#333" stroke-width="0.6"/>
<text transform="translate(469.6,246.15) scale(1,1.1)" font-size="4.7" font-weight="bold" text-anchor="end" fill="#000" stroke="#000" stroke-width="0.08">Valine, leucine and isoleucine degradation</text>
<circle cx="547.0" cy="244.40" r="1.89" fill="#ec8f2c"/>
<line x1="470.59999999999997" y1="254.74" x2="471.9" y2="254.74" stroke="#333" stroke-width="0.6"/>
<text transform="translate(469.6,256.49) scale(1,1.1)" font-size="4.7" font-weight="bold" text-anchor="end" fill="#000" stroke="#000" stroke-width="0.08">Tyrosine metabolism</text>
<circle cx="631.5" cy="254.74" r="1.62" fill="#f65a1e"/>
<line x1="470.59999999999997" y1="265.08" x2="471.9" y2="265.08" stroke="#333" stroke-width="0.6"/>
<text transform="translate(469.6,266.83) scale(1,1.1)" font-size="4.7" font-weight="bold" text-anchor="end" fill="#000" stroke="#000" stroke-width="0.08">Synthesis and degradation of ketone bodies</text>
<circle cx="547.0" cy="265.08" r="0.86" fill="#6a5af0"/>
<line x1="470.59999999999997" y1="275.42" x2="471.9" y2="275.42" stroke="#333" stroke-width="0.6"/>
<text transform="translate(469.6,277.17) scale(1,1.1)" font-size="4.7" font-weight="bold" text-anchor="end" fill="#000" stroke="#000" stroke-width="0.08">Pyruvate metabolism</text>
<circle cx="547.0" cy="275.42" r="2.27" fill="#f9481a"/>
<line x1="470.59999999999997" y1="285.76" x2="471.9" y2="285.76" stroke="#333" stroke-width="0.6"/>
<text transform="translate(469.6,287.51) scale(1,1.1)" font-size="4.7" font-weight="bold" text-anchor="end" fill="#000" stroke="#000" stroke-width="0.08">Propanoate metabolism</text>
<circle cx="594.4" cy="285.76" r="2.05" fill="#fb4418"/>
<line x1="470.59999999999997" y1="296.10" x2="471.9" y2="296.10" stroke="#333" stroke-width="0.6"/>
<text transform="translate(469.6,297.85) scale(1,1.1)" font-size="4.7" font-weight="bold" text-anchor="end" fill="#000" stroke="#000" stroke-width="0.08">Phenylalanine metabolism</text>
<circle cx="498.2" cy="296.10" r="1.62" fill="#4a28f6"/>
<line x1="470.59999999999997" y1="306.44" x2="471.9" y2="306.44" stroke="#333" stroke-width="0.6"/>
<text transform="translate(469.6,308.19) scale(1,1.1)" font-size="4.7" font-weight="bold" text-anchor="end" fill="#000" stroke="#000" stroke-width="0.08">Microbial metabolism in diverse environments</text>
<circle cx="479.3" cy="306.44" r="3.78" fill="#ff4b14"/>
<line x1="470.59999999999997" y1="316.78" x2="471.9" y2="316.78" stroke="#333" stroke-width="0.6"/>
<text transform="translate(469.6,318.53) scale(1,1.1)" font-size="4.7" font-weight="bold" text-anchor="end" fill="#000" stroke="#000" stroke-width="0.08">Lysine degradation</text>
<circle cx="525.9" cy="316.78" r="1.46" fill="#4a28f6"/>
<line x1="470.59999999999997" y1="327.12" x2="471.9" y2="327.12" stroke="#333" stroke-width="0.6"/>
<text transform="translate(469.6,328.87) scale(1,1.1)" font-size="4.7" font-weight="bold" text-anchor="end" fill="#000" stroke="#000" stroke-width="0.08">Glycolysis / Gluconeogenesis</text>
<circle cx="518.5" cy="327.12" r="1.73" fill="#bb44b4"/>
<line x1="470.59999999999997" y1="337.46" x2="471.9" y2="337.46" stroke="#333" stroke-width="0.6"/>
<text transform="translate(469.6,339.21) scale(1,1.1)" font-size="4.7" font-weight="bold" text-anchor="end" fill="#000" stroke="#000" stroke-width="0.08">Geraniol degradation</text>
<circle cx="525.1" cy="337.46" r="1.13" fill="#6048f0"/>
<line x1="470.59999999999997" y1="347.80" x2="471.9" y2="347.80" stroke="#333" stroke-width="0.6"/>
<text transform="translate(469.6,349.55) scale(1,1.1)" font-size="4.7" font-weight="bold" text-anchor="end" fill="#000" stroke="#000" stroke-width="0.08">Fatty acid metabolism</text>
<circle cx="494.6" cy="347.80" r="1.84" fill="#2a0af8"/>
<line x1="470.59999999999997" y1="358.14" x2="471.9" y2="358.14" stroke="#333" stroke-width="0.6"/>
<text transform="translate(469.6,359.89) scale(1,1.1)" font-size="4.7" font-weight="bold" text-anchor="end" fill="#000" stroke="#000" stroke-width="0.08">Fatty acid biosynthesis</text>
<circle cx="497.1" cy="358.14" r="1.24" fill="#5a4cf0"/>
<line x1="470.59999999999997" y1="368.48" x2="471.9" y2="368.48" stroke="#333" stroke-width="0.6"/>
<text transform="translate(469.6,370.23) scale(1,1.1)" font-size="4.7" font-weight="bold" text-anchor="end" fill="#000" stroke="#000" stroke-width="0.08">Degradation of aromatic compounds</text>
<circle cx="551.1" cy="368.48" r="1.67" fill="#ea8c2e"/>
<line x1="470.59999999999997" y1="378.82" x2="471.9" y2="378.82" stroke="#333" stroke-width="0.6"/>
<text transform="translate(469.6,380.57) scale(1,1.1)" font-size="4.7" font-weight="bold" text-anchor="end" fill="#000" stroke="#000" stroke-width="0.08">Citrate cycle (TCA cycle)</text>
<circle cx="611.7" cy="378.82" r="2.11" fill="#fb4418"/>
<line x1="470.59999999999997" y1="389.16" x2="471.9" y2="389.16" stroke="#333" stroke-width="0.6"/>
<text transform="translate(469.6,390.91) scale(1,1.1)" font-size="4.7" font-weight="bold" text-anchor="end" fill="#000" stroke="#000" stroke-width="0.08">Cationic antimicrobial peptide (CAMP) resistance</text>
<circle cx="525.1" cy="389.16" r="0.70" fill="#7060f0"/>
<line x1="470.59999999999997" y1="399.50" x2="471.9" y2="399.50" stroke="#333" stroke-width="0.6"/>
<text transform="translate(469.6,401.25) scale(1,1.1)" font-size="4.7" font-weight="bold" text-anchor="end" fill="#000" stroke="#000" stroke-width="0.08">Carbon metabolism</text>
<circle cx="501.7" cy="399.50" r="2.54" fill="#fb4a18"/>
<line x1="470.59999999999997" y1="409.84" x2="471.9" y2="409.84" stroke="#333" stroke-width="0.6"/>
<text transform="translate(469.6,411.59) scale(1,1.1)" font-size="4.7" font-weight="bold" text-anchor="end" fill="#000" stroke="#000" stroke-width="0.08">Butanoate metabolism</text>
<circle cx="572.0" cy="409.84" r="1.94" fill="#fb4818"/>
<line x1="470.59999999999997" y1="420.18" x2="471.9" y2="420.18" stroke="#333" stroke-width="0.6"/>
<text transform="translate(469.6,421.93) scale(1,1.1)" font-size="4.7" font-weight="bold" text-anchor="end" fill="#000" stroke="#000" stroke-width="0.08">beta-Lactam resistance</text>
<circle cx="514.5" cy="420.18" r="1.40" fill="#4a30f6"/>
<line x1="470.59999999999997" y1="430.52" x2="471.9" y2="430.52" stroke="#333" stroke-width="0.6"/>
<text transform="translate(469.6,432.27) scale(1,1.1)" font-size="4.7" font-weight="bold" text-anchor="end" fill="#000" stroke="#000" stroke-width="0.08">beta-Alanine metabolism</text>
<circle cx="582.7" cy="430.52" r="1.24" fill="#a63ce0"/>
<line x1="470.59999999999997" y1="440.86" x2="471.9" y2="440.86" stroke="#333" stroke-width="0.6"/>
<text transform="translate(469.6,442.61) scale(1,1.1)" font-size="4.7" font-weight="bold" text-anchor="end" fill="#000" stroke="#000" stroke-width="0.08">Benzoate degradation</text>
<circle cx="574.5" cy="440.86" r="1.94" fill="#fb4a18"/>
<line x1="471.9" y1="238.4" x2="638.7" y2="238.4" stroke="#cacaca" stroke-width="0.9"/>
<line x1="638.7" y1="237.95000000000002" x2="638.7" y2="446.6" stroke="#a8a8a8" stroke-width="0.9"/>
<line x1="471.9" y1="238.4" x2="471.9" y2="446.6" stroke="#444" stroke-width="1.4"/>
<line x1="471.2" y1="446.6" x2="638.7" y2="446.6" stroke="#444" stroke-width="1.4"/>
<text x="555.5" y="458.6" font-size="5.7" font-weight="bold" text-anchor="middle" fill="#000" stroke="#000" stroke-width="0.25">Rich factor</text>
<text transform="translate(646.7,297.5) scale(1,1.18)" font-size="5.9" fill="#000" stroke="#000" stroke-width="0.18">Gene_number</text>
<circle cx="650.7" cy="304.8" r="1.57" fill="#000"/>
<text x="657.6" y="306.55" font-size="4.8" fill="#000" stroke="#000" stroke-width="0.1">10</text>
<circle cx="650.7" cy="312.8" r="2.11" fill="#000"/>
<text x="657.6" y="314.55" font-size="4.8" fill="#000" stroke="#000" stroke-width="0.1">20</text>
<circle cx="650.7" cy="321" r="2.70" fill="#000"/>
<text x="657.6" y="322.75" font-size="4.8" fill="#000" stroke="#000" stroke-width="0.1">30</text>
<circle cx="650.7" cy="329.4" r="3.24" fill="#000"/>
<text x="657.6" y="331.15" font-size="4.8" fill="#000" stroke="#000" stroke-width="0.1">40</text>
<text transform="translate(646.4,348.7) scale(1,1.18)" font-size="5.9" fill="#000" stroke="#000" stroke-width="0.18">qvalue</text>
<defs><linearGradient id="qg" x1="0" y1="1" x2="0" y2="0"><stop offset="0" stop-color="#ff2a10"/><stop offset="0.22" stop-color="#ee9030"/><stop offset="0.42" stop-color="#c04a88"/><stop offset="0.55" stop-color="#9a30e0"/><stop offset="0.68" stop-color="#3000ff"/><stop offset="0.84" stop-color="#7088c8"/><stop offset="1" stop-color="#60f070"/></linearGradient></defs>
<rect x="646.5" y="352" width="8.4" height="39.8" fill="url(#qg)"/>
<text x="657.5" y="353.9" font-size="4.8" fill="#000" stroke="#000" stroke-width="0.1">1.00</text>
<text x="657.5" y="364.0" font-size="4.8" fill="#000" stroke="#000" stroke-width="0.1">0.75</text>
<text x="657.5" y="374.1" font-size="4.8" fill="#000" stroke="#000" stroke-width="0.1">0.50</text>
<text x="657.5" y="384.2" font-size="4.8" fill="#000" stroke="#000" stroke-width="0.1">0.25</text>
<text x="657.5" y="394.2" font-size="4.8" fill="#000" stroke="#000" stroke-width="0.1">0.00</text>
</svg>
</body></html>
